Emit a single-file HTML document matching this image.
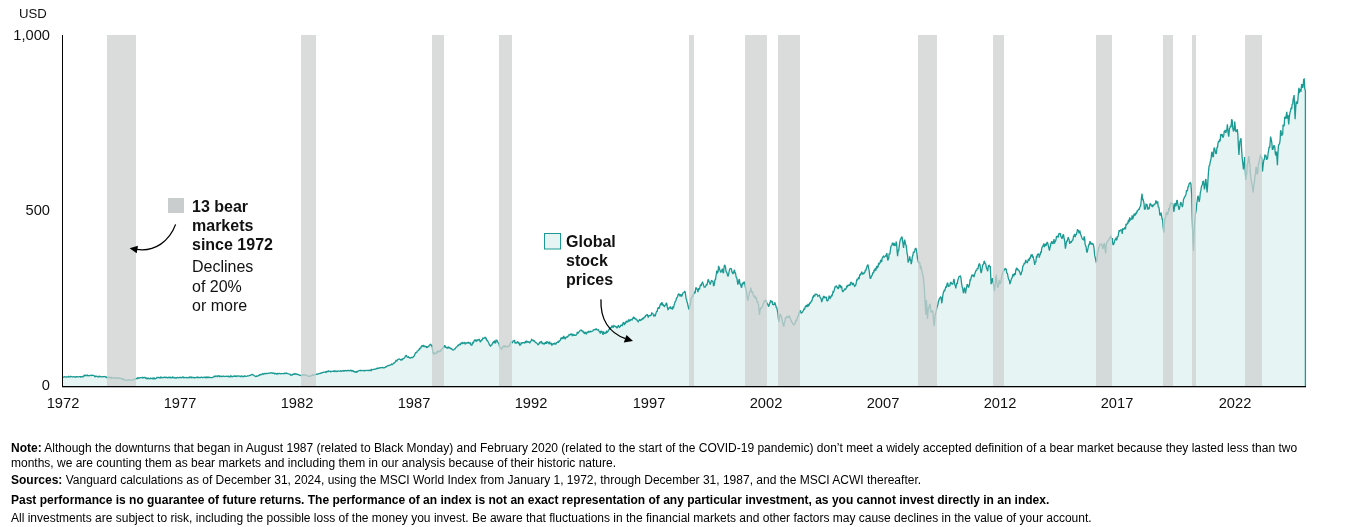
<!DOCTYPE html>
<html><head><meta charset="utf-8"><title>Global stock prices and bear markets</title>
<style>
html,body{margin:0;padding:0;background:#fff;}
body{width:1356px;height:527px;position:relative;overflow:hidden;font-family:"Liberation Sans",sans-serif;color:#111;}
svg{position:absolute;left:0;top:0;}
.t{position:absolute;white-space:nowrap;}
.t,.yr,.yl,.lg,.fn{will-change:transform;}
.ax{font-size:14.67px;line-height:16px;color:#111;}
.yr{position:absolute;top:394.7px;width:60px;text-align:center;font-size:14.67px;line-height:16px;color:#111;}
.yl{position:absolute;width:50px;left:-0.5px;text-align:right;font-size:14.67px;line-height:16px;color:#111;}
.lg{position:absolute;font-size:16px;line-height:19px;color:#111;white-space:nowrap;}
.b{font-weight:bold;}
.fn{position:absolute;left:10.6px;font-size:12px;line-height:14px;color:#000;white-space:nowrap;}
</style></head><body>
<svg width="1356" height="527" viewBox="0 0 1356 527">
<path d="M62.0,377.5 L62.5,377.3 L63.0,377.4 L63.5,377.1 L64.0,377.0 L64.5,376.7 L65.0,376.8 L65.5,376.8 L65.9,377.0 L66.3,376.9 L66.8,377.0 L67.2,376.9 L67.7,376.9 L68.2,376.8 L68.6,376.4 L69.0,377.0 L69.5,376.9 L70.0,376.9 L70.4,376.4 L70.8,376.4 L71.3,376.6 L71.8,376.7 L72.2,376.9 L72.7,376.8 L73.1,376.9 L73.5,376.7 L74.0,376.9 L74.5,376.9 L74.9,376.7 L75.3,377.2 L75.8,376.9 L76.2,377.1 L76.7,376.7 L77.2,376.6 L77.6,376.7 L78.0,376.8 L78.5,376.9 L79.0,376.9 L79.4,376.7 L79.8,376.6 L80.3,376.7 L80.8,377.1 L81.2,376.6 L81.7,376.9 L82.1,376.9 L82.5,376.5 L83.0,376.8 L83.5,376.2 L84.0,375.5 L84.5,375.8 L84.9,375.1 L85.4,375.4 L85.8,375.5 L86.3,375.3 L86.7,375.6 L87.2,375.5 L87.6,375.2 L88.1,375.7 L88.5,375.6 L89.0,375.7 L89.5,375.8 L89.9,375.6 L90.4,375.5 L90.8,375.2 L91.3,375.6 L91.7,375.4 L92.2,375.4 L92.6,375.2 L93.1,375.3 L93.5,375.4 L94.0,375.5 L94.5,376.4 L95.0,376.8 L95.5,376.2 L96.0,376.2 L96.5,376.4 L97.0,376.2 L97.5,376.8 L98.0,376.8 L98.5,376.9 L98.9,376.3 L99.4,376.2 L99.9,376.8 L100.3,376.5 L100.8,376.4 L101.3,376.9 L101.7,376.9 L102.2,376.7 L102.7,376.7 L103.1,376.7 L103.6,376.9 L104.1,376.7 L104.5,376.6 L105.0,376.5 L105.5,376.9 L106.0,376.7 L106.5,377.5 L107.0,377.5 L107.5,377.7 L107.9,377.7 L108.4,377.1 L108.8,377.5 L109.3,377.8 L109.8,377.2 L110.2,377.6 L110.7,377.9 L111.2,377.4 L111.6,378.1 L112.1,377.9 L112.5,377.7 L113.0,377.8 L113.5,377.9 L113.9,378.0 L114.4,377.9 L114.9,378.2 L115.3,377.8 L115.8,377.9 L116.3,378.2 L116.7,378.0 L117.2,377.8 L117.7,378.3 L118.1,378.4 L118.6,378.0 L119.1,377.8 L119.5,378.1 L120.0,378.2 L120.5,378.3 L121.0,378.5 L121.5,379.0 L122.0,378.6 L122.5,379.3 L123.0,378.9 L123.5,379.2 L124.0,379.5 L124.5,379.8 L125.0,380.0 L125.5,380.1 L126.0,380.1 L126.5,380.2 L127.0,380.3 L127.5,380.2 L128.0,380.2 L128.5,379.9 L129.0,379.8 L129.5,380.0 L130.0,380.1 L130.5,380.1 L131.0,380.2 L131.5,380.2 L132.0,380.0 L132.5,380.2 L133.0,379.7 L133.5,379.4 L134.0,379.3 L134.5,379.1 L135.0,379.0 L135.5,379.0 L136.0,378.6 L136.5,378.6 L137.0,378.3 L137.5,378.6 L138.0,377.6 L138.5,377.8 L139.0,378.0 L139.5,378.0 L140.0,377.8 L140.5,377.6 L141.0,377.6 L141.5,377.7 L142.0,377.6 L142.5,377.4 L143.0,378.1 L143.5,377.6 L144.0,377.4 L144.5,377.5 L145.0,377.5 L145.5,378.0 L146.0,378.5 L146.5,378.5 L146.9,377.9 L147.4,378.4 L147.8,378.7 L148.3,378.2 L148.7,378.5 L149.2,378.7 L149.6,378.7 L150.1,378.8 L150.5,378.1 L151.0,378.4 L151.5,378.4 L151.9,378.6 L152.4,378.7 L152.8,377.9 L153.3,378.7 L153.7,378.2 L154.2,378.7 L154.6,378.2 L155.1,378.5 L155.5,378.8 L156.0,378.5 L156.5,378.0 L157.0,377.5 L157.5,377.5 L157.9,377.7 L158.4,377.5 L158.8,377.5 L159.3,377.8 L159.8,377.7 L160.2,377.4 L160.7,378.1 L161.1,377.2 L161.6,377.7 L162.1,377.4 L162.5,377.5 L163.0,377.7 L163.4,377.5 L163.9,377.6 L164.4,377.2 L164.8,377.2 L165.3,377.6 L165.7,377.3 L166.2,377.3 L166.6,377.2 L167.1,377.8 L167.6,377.7 L168.0,377.8 L168.5,377.3 L168.9,377.5 L169.4,377.2 L169.9,377.7 L170.3,377.8 L170.8,377.3 L171.2,377.8 L171.7,377.7 L172.2,377.5 L172.6,377.1 L173.1,377.8 L173.5,377.5 L174.0,377.5 L174.5,377.6 L175.0,378.0 L175.5,378.0 L176.0,377.8 L176.5,378.0 L177.0,377.5 L177.5,377.3 L177.9,377.7 L178.4,377.8 L178.8,377.8 L179.3,377.5 L179.7,377.3 L180.2,377.7 L180.6,377.5 L181.1,377.5 L181.5,377.8 L182.0,377.4 L182.5,377.0 L182.9,377.4 L183.4,377.1 L183.8,377.7 L184.3,377.6 L184.7,377.4 L185.2,377.5 L185.6,377.7 L186.1,377.5 L186.5,377.8 L187.0,377.5 L187.5,377.7 L187.9,377.8 L188.4,377.9 L188.8,377.4 L189.3,377.7 L189.7,377.1 L190.2,377.3 L190.6,377.1 L191.1,377.7 L191.5,377.2 L192.0,377.5 L192.5,377.5 L192.9,377.5 L193.4,377.4 L193.8,377.6 L194.3,377.9 L194.7,377.5 L195.2,377.6 L195.6,377.7 L196.1,377.5 L196.5,377.2 L197.0,377.4 L197.5,377.7 L197.9,377.1 L198.4,377.4 L198.8,377.7 L199.3,377.7 L199.7,377.5 L200.2,377.7 L200.6,377.5 L201.1,377.2 L201.5,377.2 L202.0,377.4 L202.5,377.7 L202.9,377.4 L203.4,377.3 L203.8,377.3 L204.3,377.2 L204.7,377.5 L205.2,377.2 L205.6,377.6 L206.1,377.0 L206.5,377.6 L207.0,377.4 L207.5,377.1 L207.9,377.7 L208.4,377.4 L208.8,377.0 L209.3,377.3 L209.7,377.6 L210.2,377.4 L210.6,377.7 L211.1,377.7 L211.5,377.6 L212.0,377.5 L212.5,377.3 L213.0,377.3 L213.5,376.9 L214.0,376.5 L214.5,376.5 L215.0,375.9 L215.5,376.5 L216.0,376.5 L216.5,376.1 L217.0,376.0 L217.5,376.5 L218.0,376.0 L218.5,375.7 L219.0,376.2 L219.5,376.6 L220.0,375.9 L220.5,376.3 L221.0,376.6 L221.5,376.2 L222.0,376.3 L222.5,376.4 L222.9,376.5 L223.4,376.1 L223.9,376.3 L224.4,376.4 L224.8,376.5 L225.3,376.3 L225.8,376.3 L226.2,376.1 L226.7,376.3 L227.2,376.6 L227.6,376.4 L228.1,376.2 L228.6,376.2 L229.1,377.0 L229.5,376.6 L230.0,376.4 L230.5,376.5 L230.9,375.8 L231.4,376.5 L231.9,376.4 L232.3,376.7 L232.8,376.4 L233.3,376.3 L233.8,376.4 L234.2,375.8 L234.7,376.4 L235.2,376.3 L235.6,376.0 L236.1,376.4 L236.6,376.5 L237.0,375.8 L237.5,376.1 L238.0,376.0 L238.4,376.2 L238.9,376.2 L239.4,376.1 L239.8,376.0 L240.3,376.7 L240.7,376.4 L241.2,376.0 L241.7,375.9 L242.1,376.6 L242.6,376.5 L243.1,376.7 L243.5,376.5 L244.0,376.1 L244.4,376.4 L244.9,375.9 L245.4,376.2 L245.8,376.4 L246.3,376.4 L246.8,376.4 L247.3,375.9 L247.8,375.9 L248.2,375.9 L248.7,375.8 L249.2,375.7 L249.7,375.4 L250.2,375.2 L250.7,375.3 L251.1,374.9 L251.6,374.6 L252.1,374.5 L252.6,374.5 L253.1,374.8 L253.6,375.2 L254.1,375.6 L254.7,375.9 L255.2,376.3 L255.7,376.6 L256.2,376.4 L256.6,376.0 L257.1,376.2 L257.6,376.1 L258.0,375.8 L258.5,375.5 L259.0,375.5 L259.4,375.0 L259.9,374.6 L260.4,374.9 L260.8,374.5 L261.3,374.5 L261.8,374.6 L262.2,374.1 L262.7,373.6 L263.2,373.9 L263.6,374.3 L264.1,373.8 L264.5,373.5 L265.0,373.5 L265.5,373.7 L265.9,373.6 L266.4,373.4 L266.9,373.4 L267.3,373.6 L267.8,373.4 L268.2,373.2 L268.7,373.3 L269.1,373.4 L269.6,373.2 L270.0,373.2 L270.5,372.7 L270.9,372.8 L271.4,372.8 L271.9,373.0 L272.3,372.9 L272.8,373.3 L273.2,373.2 L273.7,373.4 L274.1,373.2 L274.6,373.9 L275.0,373.7 L275.5,373.4 L275.9,373.5 L276.4,373.6 L276.9,374.2 L277.3,373.5 L277.8,373.8 L278.2,373.8 L278.7,373.6 L279.1,373.3 L279.6,373.6 L280.0,373.6 L280.5,373.8 L280.9,373.7 L281.4,373.6 L281.8,373.7 L282.3,373.7 L282.7,373.6 L283.2,373.6 L283.6,373.5 L284.1,373.7 L284.5,373.3 L285.0,373.4 L285.4,373.5 L285.9,373.2 L286.3,373.4 L286.8,373.1 L287.2,373.4 L287.7,373.5 L288.2,373.8 L288.6,374.0 L289.1,374.1 L289.5,374.2 L290.0,374.2 L290.5,375.1 L290.9,375.0 L291.4,375.1 L291.9,375.2 L292.3,374.6 L292.8,374.5 L293.2,374.0 L293.7,374.4 L294.1,374.3 L294.6,373.9 L295.1,373.6 L295.6,374.1 L296.0,374.4 L296.5,374.0 L297.0,374.1 L297.5,374.4 L297.9,374.6 L298.4,374.5 L298.9,374.9 L299.4,375.1 L299.8,375.3 L300.3,375.4 L300.8,375.4 L301.3,375.7 L301.8,375.5 L302.3,374.9 L302.8,375.1 L303.2,374.9 L303.7,374.8 L304.2,375.0 L304.7,375.0 L305.2,374.9 L305.7,375.2 L306.2,375.0 L306.7,375.3 L307.2,375.8 L307.7,375.9 L308.2,376.1 L308.7,376.4 L309.2,376.3 L309.6,376.0 L310.1,376.2 L310.6,376.0 L311.1,375.8 L311.5,375.5 L312.0,375.5 L312.5,374.8 L312.9,375.1 L313.4,375.2 L313.9,374.7 L314.4,375.0 L314.8,374.9 L315.3,374.7 L315.8,374.3 L316.3,374.4 L316.7,374.2 L317.2,374.3 L317.7,374.2 L318.2,373.9 L318.6,373.6 L319.1,373.6 L319.6,373.5 L320.1,373.6 L320.5,373.3 L321.0,373.0 L321.5,373.0 L321.9,372.6 L322.4,372.7 L322.9,372.5 L323.3,372.3 L323.8,372.4 L324.2,372.2 L324.6,372.2 L325.1,372.1 L325.6,371.8 L326.0,372.3 L326.4,371.6 L326.9,371.8 L327.4,371.4 L327.8,371.3 L328.3,371.5 L328.7,370.8 L329.2,371.1 L329.6,371.3 L330.1,371.4 L330.5,371.8 L331.0,371.3 L331.4,371.5 L331.9,371.4 L332.3,371.4 L332.8,371.3 L333.3,371.2 L333.7,371.3 L334.2,370.9 L334.6,371.4 L335.1,370.9 L335.5,371.2 L336.0,371.6 L336.4,371.1 L336.9,371.1 L337.3,371.4 L337.8,371.1 L338.3,371.1 L338.7,370.9 L339.2,371.1 L339.7,371.1 L340.1,371.1 L340.6,370.8 L341.1,371.3 L341.6,371.3 L342.0,370.9 L342.5,370.9 L343.0,370.7 L343.4,371.1 L343.9,370.6 L344.4,370.9 L344.8,370.6 L345.3,370.7 L345.8,370.5 L346.2,370.8 L346.7,370.9 L347.2,370.6 L347.7,370.4 L348.1,370.7 L348.6,370.5 L349.1,370.5 L349.6,370.7 L350.1,370.6 L350.5,370.2 L351.0,370.3 L351.5,371.0 L351.9,370.6 L352.4,371.0 L352.8,370.8 L353.3,371.2 L353.7,371.0 L354.2,371.9 L354.6,372.0 L355.1,371.6 L355.5,371.7 L356.0,372.2 L356.5,371.6 L357.0,372.0 L357.6,371.3 L358.1,371.2 L358.6,370.9 L359.1,370.7 L359.6,370.7 L360.0,370.4 L360.5,370.7 L361.0,370.3 L361.4,370.6 L361.9,370.7 L362.3,370.7 L362.8,370.6 L363.3,370.4 L363.7,370.6 L364.2,370.5 L364.7,370.9 L365.1,370.7 L365.6,370.5 L366.0,370.4 L366.5,370.4 L367.0,370.3 L367.4,370.4 L367.9,370.5 L368.4,370.5 L368.8,370.4 L369.3,370.4 L369.8,370.6 L370.2,369.9 L370.7,370.0 L371.2,370.5 L371.6,369.4 L372.1,369.6 L372.6,369.7 L373.1,369.6 L373.5,369.5 L374.0,369.3 L374.5,369.4 L374.9,369.2 L375.4,369.1 L375.9,369.1 L376.3,368.4 L376.8,368.5 L377.3,368.6 L377.7,368.2 L378.2,368.1 L378.6,368.3 L379.1,367.9 L379.6,368.0 L380.0,367.9 L380.5,367.6 L381.0,367.7 L381.4,367.8 L381.9,367.7 L382.4,367.4 L382.8,367.7 L383.3,367.8 L383.7,367.7 L384.2,367.8 L384.7,367.5 L385.1,367.4 L385.6,366.8 L386.1,366.9 L386.6,366.9 L387.1,366.1 L387.5,366.0 L388.0,365.7 L388.5,365.5 L388.9,365.7 L389.4,365.3 L389.8,365.3 L390.3,364.8 L390.7,364.8 L391.2,364.7 L391.6,364.1 L392.1,364.7 L392.5,364.4 L393.0,364.1 L393.5,363.2 L394.0,363.3 L394.5,362.6 L395.0,362.3 L395.4,361.9 L395.9,360.5 L396.4,360.7 L396.9,361.0 L397.4,359.8 L397.9,359.5 L398.4,359.2 L399.0,358.9 L399.5,359.0 L400.0,359.5 L400.5,359.6 L400.9,360.1 L401.4,359.4 L401.9,359.2 L402.4,360.1 L402.9,358.6 L403.3,358.4 L403.8,358.6 L404.3,358.1 L404.9,357.4 L405.4,355.9 L405.9,355.7 L406.4,355.6 L407.0,356.9 L407.5,357.2 L408.0,357.4 L408.4,356.8 L408.9,357.4 L409.3,357.4 L409.8,358.0 L410.2,357.8 L410.7,358.0 L411.2,357.7 L411.7,357.3 L412.2,357.7 L412.8,357.7 L413.3,356.5 L413.8,356.4 L414.3,355.9 L414.8,354.1 L415.2,353.6 L415.7,352.6 L416.2,352.6 L416.7,352.6 L417.2,351.1 L417.8,350.9 L418.3,350.6 L418.8,350.1 L419.3,348.7 L419.8,349.0 L420.2,348.1 L420.7,348.1 L421.2,346.7 L421.7,345.6 L422.1,346.3 L422.6,345.7 L423.1,346.0 L423.6,345.6 L424.1,346.6 L424.6,346.0 L425.1,346.3 L425.7,346.3 L426.2,347.3 L426.8,346.5 L427.3,347.8 L427.8,346.8 L428.2,346.7 L428.7,346.6 L429.2,345.4 L429.6,345.2 L430.1,344.4 L430.6,344.2 L431.1,344.9 L431.7,345.9 L432.2,345.1 L432.9,352.8 L433.4,352.6 L434.0,354.5 L434.6,353.0 L435.1,353.6 L435.6,353.3 L436.1,353.1 L436.6,353.2 L437.1,351.6 L437.6,352.0 L438.1,350.6 L438.6,351.8 L439.1,351.7 L439.6,351.3 L440.1,350.7 L440.6,351.7 L441.0,349.8 L441.5,349.4 L441.9,349.3 L442.4,348.5 L442.8,348.8 L443.3,347.3 L443.8,346.5 L444.3,347.0 L444.8,345.1 L445.3,347.5 L445.8,347.0 L446.4,347.4 L447.0,348.2 L447.6,347.9 L448.3,346.6 L448.8,348.3 L449.3,347.5 L449.8,347.8 L450.3,348.1 L450.8,348.8 L451.3,348.6 L451.9,349.0 L452.4,349.9 L453.0,349.9 L453.5,350.1 L454.0,349.6 L454.5,349.0 L454.9,349.1 L455.4,348.3 L455.9,347.4 L456.4,347.0 L456.9,346.9 L457.4,346.0 L457.9,344.9 L458.4,346.0 L458.9,344.7 L459.4,344.7 L459.8,343.6 L460.3,344.6 L460.8,343.9 L461.3,342.4 L461.8,344.1 L462.2,343.1 L462.7,342.6 L463.2,343.3 L463.7,343.0 L464.2,342.9 L464.8,342.2 L465.3,343.9 L465.8,343.4 L466.3,343.2 L466.8,342.8 L467.3,343.0 L467.8,342.6 L468.3,342.3 L468.8,343.1 L469.2,342.8 L469.7,343.3 L470.1,342.4 L470.6,343.8 L471.0,344.9 L471.5,344.8 L472.0,344.9 L472.5,343.0 L473.0,342.4 L473.5,342.7 L474.0,340.7 L474.5,340.6 L475.0,339.4 L475.5,340.8 L476.1,340.1 L476.6,341.2 L477.1,340.7 L477.6,339.9 L478.1,340.2 L478.5,339.7 L479.0,339.4 L479.5,339.9 L479.9,341.0 L480.4,342.2 L480.9,341.1 L481.4,340.1 L481.9,339.6 L482.4,339.7 L482.9,338.1 L483.4,338.2 L483.9,338.3 L484.4,338.1 L484.8,337.3 L485.3,337.3 L485.8,338.5 L486.2,338.0 L486.7,340.3 L487.1,340.7 L487.6,340.5 L488.1,341.8 L488.6,342.6 L489.0,343.5 L489.5,345.0 L490.0,345.3 L490.5,346.0 L491.0,345.1 L491.5,345.0 L491.9,344.9 L492.4,343.3 L492.9,342.8 L493.4,341.9 L493.9,342.5 L494.3,341.8 L494.8,340.6 L495.3,342.9 L495.8,342.6 L496.2,339.7 L496.7,340.8 L497.2,340.7 L497.7,341.8 L498.3,343.0 L498.8,343.2 L499.7,347.0 L500.2,348.0 L500.6,348.1 L501.1,348.3 L501.6,349.5 L502.2,348.0 L502.8,346.3 L503.3,347.0 L503.8,345.8 L504.2,346.0 L504.7,346.6 L505.2,345.6 L505.7,346.7 L506.1,346.7 L506.6,347.0 L507.1,347.1 L507.6,346.3 L508.1,346.1 L508.6,346.2 L509.1,346.3 L509.6,345.2 L510.1,343.7 L510.5,343.0 L511.0,341.9 L511.5,342.2 L512.0,342.4 L512.5,342.6 L513.1,340.9 L513.6,341.0 L514.1,341.1 L514.6,340.1 L515.0,343.3 L515.5,342.2 L516.0,343.2 L516.5,342.9 L517.0,342.9 L517.4,341.4 L517.9,341.9 L518.4,343.0 L518.8,343.5 L519.2,343.2 L519.7,345.1 L520.2,344.8 L520.7,344.8 L521.2,342.4 L521.7,343.6 L522.2,342.6 L522.7,342.6 L523.2,342.7 L523.6,342.6 L524.1,343.0 L524.6,341.9 L525.0,342.5 L525.5,341.6 L526.0,342.2 L526.5,341.1 L527.0,341.4 L527.4,342.5 L527.9,341.3 L528.4,342.1 L528.8,342.2 L529.3,342.0 L529.8,343.2 L530.2,341.8 L530.7,341.4 L531.1,341.0 L531.6,339.4 L532.1,339.9 L532.5,340.3 L533.0,340.2 L533.4,341.4 L533.9,340.5 L534.3,340.7 L534.8,341.3 L535.3,342.4 L535.8,342.5 L536.3,342.8 L536.9,343.2 L537.4,344.0 L537.9,344.7 L538.4,344.6 L538.9,343.9 L539.5,342.4 L540.0,342.9 L540.5,342.2 L541.0,341.6 L541.5,341.5 L542.0,343.2 L542.4,343.1 L542.9,343.8 L543.4,343.4 L543.9,343.9 L544.4,344.0 L544.9,342.5 L545.3,343.0 L545.8,342.0 L546.3,343.8 L546.8,341.8 L547.3,341.9 L547.8,342.9 L548.2,341.9 L548.7,343.1 L549.1,344.2 L549.6,341.5 L550.0,343.0 L550.5,343.8 L550.9,343.7 L551.4,343.5 L551.8,345.5 L552.3,344.4 L552.8,344.3 L553.2,343.1 L553.7,344.5 L554.1,342.8 L554.6,344.4 L555.0,343.2 L555.5,343.5 L555.9,344.1 L556.4,343.2 L556.8,342.2 L557.3,342.9 L557.8,341.4 L558.2,342.7 L558.7,341.9 L559.2,340.5 L559.6,341.0 L560.1,340.3 L560.5,339.9 L561.0,337.6 L561.5,338.4 L561.9,338.7 L562.4,337.6 L562.9,338.1 L563.3,338.2 L563.8,336.0 L564.2,337.7 L564.7,337.9 L565.2,339.3 L565.6,337.0 L566.1,337.6 L566.6,337.0 L567.1,336.8 L567.6,337.0 L568.0,335.7 L568.5,336.4 L569.0,334.7 L569.5,335.0 L570.0,334.4 L570.5,334.1 L570.9,334.7 L571.4,334.2 L571.8,333.6 L572.3,335.5 L572.8,335.1 L573.2,334.5 L573.7,335.1 L574.1,335.8 L574.6,334.5 L575.0,335.1 L575.5,335.3 L576.0,335.2 L576.4,334.8 L576.9,333.7 L577.3,332.0 L577.8,333.9 L578.2,332.8 L578.7,332.1 L579.1,331.5 L579.6,331.4 L580.0,330.5 L580.5,330.3 L581.0,329.9 L581.5,330.4 L581.9,330.9 L582.4,331.2 L582.9,331.1 L583.4,332.7 L583.8,331.7 L584.3,333.4 L584.8,333.3 L585.3,332.5 L585.8,333.3 L586.3,333.9 L586.8,332.9 L587.2,332.1 L587.7,332.6 L588.2,332.5 L588.7,331.0 L589.2,331.7 L589.7,332.0 L590.2,331.9 L590.6,331.2 L591.1,331.4 L591.5,331.6 L592.0,331.5 L592.4,331.3 L592.9,330.9 L593.3,330.0 L593.8,330.0 L594.2,329.6 L594.7,329.6 L595.2,329.4 L595.7,329.6 L596.2,328.6 L596.8,329.6 L597.3,329.9 L597.8,330.0 L598.3,329.7 L598.8,330.8 L599.3,331.6 L599.8,331.5 L600.3,333.5 L600.8,332.4 L601.3,330.7 L601.7,332.5 L602.2,331.5 L602.6,333.5 L603.1,334.8 L603.6,331.3 L604.0,333.3 L604.5,333.3 L605.0,333.4 L605.5,332.6 L606.0,332.9 L606.6,330.7 L607.1,332.7 L607.6,331.8 L608.1,331.3 L608.6,330.3 L609.1,329.2 L609.6,329.3 L610.1,328.1 L610.6,327.5 L611.1,327.8 L611.5,327.0 L612.0,325.5 L612.5,326.9 L613.0,326.8 L613.4,327.0 L613.9,325.5 L614.4,325.9 L614.9,326.0 L615.4,326.7 L616.0,326.5 L616.5,327.5 L617.0,328.2 L617.5,326.9 L618.0,326.1 L618.5,325.1 L618.9,327.0 L619.4,327.4 L619.9,326.8 L620.4,326.5 L620.8,325.3 L621.3,325.0 L621.8,325.4 L622.3,325.6 L622.8,323.8 L623.3,322.6 L623.9,322.8 L624.4,325.0 L624.9,322.6 L625.4,323.9 L625.9,321.6 L626.3,321.3 L626.8,321.8 L627.3,320.8 L627.8,322.2 L628.2,320.9 L628.7,319.9 L629.2,320.5 L629.7,321.4 L630.2,319.7 L630.7,320.2 L631.2,319.8 L631.7,319.4 L632.1,319.8 L632.6,318.8 L633.1,317.7 L633.6,317.3 L634.1,318.9 L634.6,317.9 L635.1,318.4 L635.6,319.1 L636.1,319.2 L636.6,319.2 L637.1,320.5 L637.7,321.0 L638.2,321.7 L638.7,320.8 L639.1,320.5 L639.6,319.1 L640.1,320.3 L640.6,320.5 L641.0,320.2 L641.5,319.5 L642.0,319.0 L642.4,318.6 L642.9,319.1 L643.3,317.9 L643.8,318.1 L644.2,317.6 L644.7,316.9 L645.1,317.4 L645.6,315.5 L646.0,315.3 L646.5,315.2 L647.0,314.6 L647.5,314.8 L647.9,316.8 L648.4,317.1 L648.9,315.8 L649.4,315.5 L649.8,315.6 L650.3,315.8 L650.8,315.2 L651.2,315.2 L651.7,312.9 L652.1,313.1 L652.6,313.3 L653.1,314.3 L653.6,315.7 L654.1,315.2 L654.6,315.1 L655.1,316.4 L655.6,314.6 L656.1,312.9 L656.6,311.2 L657.1,311.8 L657.6,309.0 L658.1,307.7 L658.6,307.5 L659.0,308.7 L659.5,307.0 L660.0,305.5 L660.5,303.9 L660.9,304.1 L661.4,304.5 L661.9,302.2 L662.4,303.6 L662.9,305.1 L663.4,304.9 L663.9,306.1 L664.4,306.5 L664.9,305.4 L665.3,305.0 L665.8,304.9 L666.2,302.8 L666.8,303.8 L667.4,307.3 L668.0,309.6 L668.5,309.2 L669.0,307.9 L669.5,307.5 L670.0,307.8 L670.5,306.5 L671.0,308.9 L671.5,308.3 L671.9,308.7 L672.4,309.0 L672.9,306.4 L673.4,308.3 L674.0,305.4 L674.5,304.0 L675.0,301.8 L675.5,301.6 L676.0,300.2 L676.5,297.9 L677.0,297.7 L677.5,296.7 L678.0,295.0 L678.5,293.6 L679.0,294.4 L679.5,293.8 L680.0,296.5 L680.6,295.0 L681.1,294.3 L681.6,296.6 L682.1,295.5 L682.6,294.0 L683.2,292.8 L683.7,292.6 L684.2,292.3 L684.7,291.1 L685.2,292.1 L685.7,295.3 L686.1,298.9 L686.6,299.7 L687.1,302.3 L687.6,303.5 L688.0,305.8 L688.5,307.5 L689.0,309.6 L689.5,307.3 L690.0,305.8 L690.5,302.9 L691.0,298.5 L691.5,298.5 L692.0,297.4 L692.5,295.6 L693.0,296.0 L693.6,293.8 L694.1,293.5 L694.6,292.3 L695.2,292.4 L695.8,288.0 L696.3,288.0 L696.9,289.0 L697.5,289.7 L698.0,292.2 L698.5,288.8 L698.9,288.3 L699.4,289.6 L699.8,287.6 L700.3,285.3 L700.8,284.7 L701.2,285.9 L701.7,283.5 L702.1,282.9 L702.6,282.3 L703.1,283.6 L703.7,285.6 L704.2,287.1 L704.8,287.1 L705.3,286.9 L705.8,285.8 L706.3,284.6 L706.8,285.0 L707.4,283.4 L707.9,280.2 L708.4,279.3 L708.9,281.1 L709.3,282.3 L709.8,283.3 L710.2,284.6 L710.8,282.8 L711.4,280.6 L712.0,280.8 L712.5,281.4 L713.0,281.4 L713.5,285.6 L714.0,285.4 L714.5,283.7 L714.9,279.5 L715.4,280.1 L715.8,277.3 L716.3,274.0 L716.8,270.6 L717.2,273.7 L717.6,271.3 L718.1,271.6 L718.5,266.5 L719.0,266.8 L719.6,269.3 L720.2,271.1 L720.8,272.5 L721.3,271.5 L721.8,270.2 L722.3,268.7 L722.9,272.2 L723.5,273.2 L724.0,267.3 L724.6,264.9 L725.1,265.7 L725.6,267.8 L726.1,271.7 L726.6,272.2 L727.1,273.3 L727.6,275.6 L728.1,276.3 L728.6,274.3 L729.1,271.7 L729.6,269.4 L730.2,268.5 L730.8,268.6 L731.4,269.0 L731.9,271.8 L732.5,273.2 L733.0,274.0 L733.5,272.7 L734.0,270.9 L734.5,269.9 L735.0,273.3 L735.4,272.4 L735.9,275.4 L736.3,277.5 L736.8,277.8 L737.3,280.9 L737.8,284.6 L738.4,282.8 L739.0,279.3 L739.5,279.8 L739.9,283.7 L740.4,284.6 L740.8,284.4 L741.3,287.7 L741.8,286.9 L742.3,283.7 L742.8,283.1 L743.3,284.2 L743.9,281.8 L744.4,282.3 L745.0,284.6 L745.5,287.5 L746.0,289.4 L746.6,292.2 L747.2,296.7 L747.8,300.6 L748.3,297.3 L748.9,295.7 L749.4,292.2 L749.9,291.6 L750.3,291.3 L750.8,287.7 L751.2,289.9 L751.7,292.1 L752.1,292.1 L752.6,291.3 L753.0,294.2 L753.5,295.2 L754.0,296.2 L754.5,297.3 L755.0,295.7 L755.5,298.8 L756.0,297.6 L756.5,298.3 L757.0,302.1 L757.5,301.2 L758.0,303.5 L758.5,304.4 L759.0,309.4 L759.5,315.0 L760.0,310.6 L760.6,308.2 L761.1,308.3 L761.7,307.2 L762.2,306.8 L762.8,305.3 L763.3,303.6 L763.8,302.6 L764.2,301.1 L764.7,301.5 L765.2,301.0 L765.6,300.3 L766.1,300.6 L766.6,302.3 L767.1,303.3 L767.7,304.0 L768.2,305.6 L768.7,306.6 L769.2,304.9 L769.7,303.6 L770.1,302.6 L770.6,300.3 L771.1,302.0 L771.6,301.3 L772.2,301.4 L772.7,304.9 L773.2,304.4 L773.7,304.3 L774.2,305.0 L774.7,302.3 L775.2,303.6 L775.7,305.1 L776.2,307.3 L776.8,307.8 L777.3,310.4 L777.8,312.7 L778.3,317.8 L778.8,321.8 L779.4,318.5 L780.0,313.5 L780.5,316.2 L781.0,315.4 L781.4,316.3 L781.9,318.8 L782.4,321.2 L782.8,323.5 L783.3,324.9 L783.8,326.7 L784.3,322.8 L784.9,321.5 L785.4,318.0 L786.0,318.3 L786.5,317.7 L787.0,316.5 L787.6,316.5 L788.1,316.9 L788.5,317.5 L789.0,316.5 L789.4,315.6 L789.9,317.3 L790.4,318.6 L790.8,319.8 L791.3,320.5 L791.7,322.2 L792.2,322.6 L792.7,323.0 L793.2,324.3 L793.7,325.2 L794.2,324.0 L794.6,323.7 L795.1,323.5 L795.5,321.1 L796.0,320.3 L796.5,320.8 L797.0,319.3 L797.4,317.5 L797.9,316.2 L798.4,316.1 L798.8,313.3 L799.3,312.2 L799.8,311.2 L800.3,310.5 L800.7,312.1 L801.2,313.1 L801.6,312.6 L802.1,312.4 L802.6,312.0 L803.0,310.8 L803.5,310.4 L804.0,308.3 L804.5,309.7 L805.0,307.7 L805.4,306.3 L805.9,306.6 L806.4,305.6 L806.8,305.3 L807.2,306.5 L807.7,306.4 L808.1,303.9 L808.6,305.6 L809.0,305.3 L809.5,303.7 L809.9,302.5 L810.4,303.6 L810.9,301.9 L811.4,301.0 L811.8,301.0 L812.3,299.3 L812.8,296.7 L813.2,297.9 L813.7,295.2 L814.2,295.7 L814.7,296.4 L815.2,294.2 L815.8,294.6 L816.3,294.3 L816.8,294.4 L817.3,294.8 L817.8,296.2 L818.4,295.8 L819.0,295.7 L819.5,295.2 L820.0,296.9 L820.5,298.0 L821.1,298.6 L821.7,302.2 L822.2,300.3 L822.8,298.8 L823.3,296.9 L823.8,296.4 L824.3,297.5 L824.8,296.9 L825.3,297.5 L825.8,297.7 L826.3,297.4 L826.8,300.5 L827.3,300.5 L827.8,301.2 L828.2,299.6 L828.7,297.9 L829.2,295.7 L829.6,297.9 L830.1,298.3 L830.6,296.9 L831.0,297.0 L831.5,295.5 L832.0,295.8 L832.5,294.3 L833.0,291.6 L833.6,292.0 L834.1,290.5 L834.6,288.6 L835.1,286.5 L835.7,287.2 L836.2,285.6 L836.7,286.6 L837.3,287.2 L837.8,288.5 L838.4,288.6 L838.9,286.6 L839.3,284.7 L839.8,287.3 L840.2,285.1 L840.7,286.3 L841.1,288.2 L841.6,286.1 L842.0,289.4 L842.5,291.2 L842.9,291.9 L843.4,290.7 L843.9,290.0 L844.4,289.9 L844.8,289.0 L845.3,289.6 L845.8,289.2 L846.3,287.7 L846.8,285.6 L847.2,287.3 L847.7,285.5 L848.2,285.5 L848.7,285.6 L849.2,284.7 L849.8,285.7 L850.3,284.6 L850.8,282.4 L851.3,282.4 L851.9,283.1 L852.4,285.0 L853.0,283.4 L853.5,283.4 L854.0,284.9 L854.6,286.2 L855.1,285.5 L855.6,285.6 L856.1,283.7 L856.6,280.5 L857.1,279.4 L857.6,279.8 L858.1,278.8 L858.6,277.2 L859.1,279.1 L859.7,274.3 L860.2,275.6 L860.7,273.4 L861.2,274.4 L861.7,271.7 L862.2,272.8 L862.8,274.0 L863.3,273.3 L863.8,274.0 L864.3,272.8 L864.8,272.5 L865.3,269.9 L865.8,270.4 L866.3,268.8 L866.9,266.6 L867.4,265.3 L868.0,264.6 L868.5,268.1 L869.0,269.6 L869.5,273.4 L870.0,277.8 L870.5,278.8 L871.0,277.5 L871.5,275.9 L872.1,275.6 L872.6,273.4 L873.1,272.3 L873.5,273.3 L874.0,269.8 L874.5,271.3 L874.9,269.3 L875.4,268.3 L875.8,270.6 L876.3,267.8 L876.8,266.0 L877.2,268.4 L877.7,266.4 L878.1,266.6 L878.6,262.9 L879.0,264.8 L879.5,262.6 L880.0,263.5 L880.5,260.7 L881.0,259.8 L881.6,262.1 L882.1,258.4 L882.6,257.3 L883.1,256.6 L883.6,256.1 L884.1,257.3 L884.6,256.9 L885.1,256.3 L885.7,255.5 L886.2,256.5 L886.8,253.2 L887.3,256.4 L887.8,260.5 L888.2,259.2 L888.7,258.5 L889.1,253.5 L889.6,254.2 L890.0,253.3 L890.5,249.0 L891.0,246.2 L891.5,245.6 L892.0,244.7 L892.5,242.7 L893.0,244.2 L893.6,245.4 L894.1,242.8 L894.7,245.9 L895.2,245.2 L895.7,245.1 L896.2,241.7 L896.7,244.4 L897.1,251.0 L897.6,256.3 L898.2,250.3 L898.7,250.4 L899.3,245.9 L899.8,241.9 L900.3,240.0 L900.9,238.5 L901.4,237.7 L902.0,236.5 L902.5,241.1 L903.0,243.7 L903.5,248.0 L904.0,243.8 L904.5,239.6 L905.0,241.2 L905.5,244.5 L906.1,245.1 L906.6,249.0 L907.1,253.6 L907.6,255.6 L908.1,262.6 L908.6,259.9 L909.2,260.8 L909.7,256.3 L910.2,259.0 L910.7,260.0 L911.2,264.2 L911.8,261.6 L912.3,257.0 L912.9,255.3 L913.4,252.0 L913.8,251.9 L914.2,252.6 L914.7,250.9 L915.1,249.1 L915.6,248.0 L916.1,248.8 L916.5,250.7 L917.0,254.2 L917.5,258.7 L918.0,260.1 L918.5,262.6 L919.0,262.3 L919.4,261.8 L919.9,263.5 L920.3,269.0 L920.8,265.6 L921.2,267.8 L921.7,270.1 L922.2,272.7 L922.8,274.7 L923.3,277.2 L923.8,282.1 L924.3,287.6 L925.0,300.1 L925.8,314.7 L926.4,300.1 L927.0,308.3 L927.5,318.9 L928.0,312.3 L928.5,307.4 L929.0,307.9 L929.5,304.6 L930.0,304.3 L930.6,309.2 L931.2,312.7 L931.7,310.6 L932.2,311.1 L932.7,310.6 L933.2,316.0 L933.7,321.8 L934.2,326.2 L934.7,319.6 L935.2,314.7 L935.7,313.1 L936.2,310.9 L936.8,307.8 L937.3,306.4 L937.9,304.7 L938.4,301.4 L939.0,300.1 L939.5,298.3 L940.1,298.0 L940.6,297.0 L941.2,297.6 L941.7,303.3 L942.2,300.3 L942.7,296.6 L943.2,293.2 L943.7,291.8 L944.2,290.4 L944.7,290.7 L945.2,289.0 L945.8,286.9 L946.4,287.1 L947.0,284.1 L947.5,283.2 L947.9,283.4 L948.4,286.8 L948.8,285.9 L949.3,285.8 L949.9,285.7 L950.4,282.6 L951.0,282.4 L951.6,283.8 L952.1,283.8 L952.7,284.1 L953.3,282.2 L953.9,278.9 L954.4,281.3 L954.8,284.9 L955.3,285.3 L955.8,288.3 L956.3,285.4 L956.8,283.0 L957.3,283.9 L957.8,280.0 L958.3,278.9 L958.8,277.0 L959.3,276.4 L959.9,276.2 L960.4,276.0 L961.0,278.1 L961.5,282.8 L962.1,286.6 L962.8,289.2 L963.4,293.1 L964.0,289.7 L964.6,287.5 L965.5,293.5 L966.1,289.4 L966.6,287.3 L967.2,284.1 L967.7,284.7 L968.1,286.5 L968.6,287.5 L969.1,285.8 L969.6,284.0 L970.1,279.4 L970.6,279.8 L971.2,277.5 L971.7,275.5 L972.3,274.7 L972.9,276.4 L973.4,274.6 L974.0,277.2 L974.6,274.4 L975.1,272.9 L975.7,271.2 L976.2,270.0 L976.7,270.7 L977.3,268.2 L977.8,269.0 L978.3,267.0 L978.9,264.5 L979.4,263.4 L980.0,264.8 L980.6,270.3 L981.2,273.0 L981.7,270.9 L982.1,268.4 L982.6,265.3 L983.1,264.5 L983.6,264.0 L984.1,261.0 L984.6,261.5 L985.1,263.9 L985.5,263.4 L986.0,265.3 L986.6,268.4 L987.1,269.3 L987.7,271.2 L988.2,266.9 L988.6,265.7 L989.1,265.3 L989.7,267.1 L990.3,266.1 L991.1,284.1 L991.6,282.0 L992.0,279.7 L992.5,278.1 L993.0,281.6 L993.5,284.0 L994.0,287.1 L994.5,290.9 L995.1,285.6 L995.6,280.3 L996.2,274.7 L996.7,280.6 L997.1,283.3 L997.6,287.5 L998.2,286.9 L998.7,284.3 L999.3,279.8 L999.9,283.4 L1000.5,283.2 L1001.1,281.2 L1001.6,277.1 L1002.2,273.8 L1002.8,272.8 L1003.3,271.4 L1003.9,270.4 L1004.5,269.0 L1005.0,269.2 L1005.6,268.7 L1006.2,269.4 L1006.8,273.5 L1007.4,273.0 L1008.0,276.6 L1008.5,278.9 L1009.0,280.1 L1009.4,280.3 L1009.9,284.1 L1010.4,282.5 L1011.0,280.6 L1011.5,278.4 L1012.0,278.1 L1012.5,276.0 L1013.1,273.9 L1013.7,276.2 L1014.2,274.7 L1014.7,273.2 L1015.2,274.9 L1015.7,270.5 L1016.2,269.0 L1016.7,267.8 L1017.2,270.2 L1017.8,269.3 L1018.3,269.9 L1018.8,270.4 L1019.4,271.4 L1019.9,272.6 L1020.5,274.7 L1021.0,274.5 L1021.6,272.0 L1022.2,270.9 L1022.7,267.0 L1023.2,265.6 L1023.7,265.0 L1024.3,262.9 L1024.8,264.1 L1025.3,261.9 L1025.8,259.9 L1026.3,262.1 L1026.9,262.5 L1027.4,262.7 L1027.9,260.7 L1028.5,259.0 L1029.0,260.9 L1029.5,258.1 L1030.1,258.4 L1030.6,256.4 L1031.1,254.6 L1031.6,256.7 L1032.1,254.2 L1032.6,257.7 L1033.0,256.2 L1033.5,258.4 L1034.1,260.7 L1034.7,264.8 L1035.3,261.7 L1035.8,262.5 L1036.4,256.7 L1037.0,257.1 L1037.5,254.3 L1038.1,254.2 L1038.7,253.6 L1039.3,257.6 L1039.8,254.7 L1040.2,255.1 L1040.7,251.6 L1041.2,252.8 L1041.7,248.7 L1042.2,246.9 L1042.7,246.5 L1043.2,245.6 L1043.8,243.5 L1044.4,247.1 L1044.9,245.6 L1045.5,243.6 L1046.0,245.9 L1046.6,243.9 L1047.2,242.0 L1047.7,243.1 L1048.3,245.3 L1048.9,248.4 L1049.5,250.7 L1050.0,247.1 L1050.4,246.7 L1050.9,243.1 L1051.4,242.9 L1051.9,241.1 L1052.5,243.4 L1053.0,243.5 L1053.5,242.2 L1054.0,239.0 L1054.5,243.7 L1055.0,241.3 L1055.5,241.2 L1056.0,239.6 L1056.5,236.1 L1057.0,236.7 L1057.6,236.3 L1058.1,237.5 L1058.6,235.0 L1059.1,233.2 L1059.7,234.3 L1060.2,233.0 L1060.8,236.2 L1061.4,237.2 L1062.0,238.8 L1062.5,237.4 L1062.9,235.0 L1063.5,234.4 L1064.0,237.8 L1064.6,240.5 L1065.4,248.7 L1066.0,245.3 L1066.6,240.5 L1067.2,241.6 L1067.7,239.2 L1068.3,237.1 L1068.8,238.9 L1069.2,240.0 L1069.7,243.9 L1070.2,242.0 L1070.8,241.7 L1071.3,242.2 L1071.8,241.4 L1072.4,239.6 L1072.9,240.3 L1073.5,236.2 L1074.0,236.2 L1074.6,233.8 L1075.2,237.1 L1075.7,234.5 L1076.2,235.2 L1076.6,233.3 L1077.1,231.4 L1077.5,229.1 L1078.0,231.1 L1078.5,230.1 L1079.0,233.4 L1079.4,231.4 L1079.9,231.2 L1080.4,233.6 L1080.9,235.0 L1081.4,236.2 L1081.9,237.9 L1082.4,239.1 L1082.9,239.3 L1083.6,239.8 L1084.2,236.4 L1084.7,238.4 L1085.1,244.1 L1085.6,245.9 L1086.1,246.8 L1086.6,251.3 L1087.1,252.6 L1087.6,250.3 L1088.1,247.9 L1088.6,245.0 L1089.2,244.7 L1089.9,241.7 L1090.4,242.0 L1090.8,243.9 L1091.3,244.0 L1091.8,243.1 L1092.3,244.0 L1092.8,243.7 L1093.2,244.2 L1093.7,245.9 L1094.2,250.0 L1094.7,255.4 L1095.2,257.3 L1095.7,259.8 L1096.2,262.0 L1096.8,261.5 L1097.5,253.5 L1098.2,251.0 L1098.8,246.9 L1099.3,247.4 L1099.8,244.6 L1100.3,244.2 L1100.8,244.1 L1101.3,244.0 L1101.8,245.2 L1102.2,244.5 L1102.7,249.0 L1103.2,247.8 L1103.8,244.7 L1104.5,243.1 L1105.1,249.7 L1105.7,253.5 L1106.3,244.7 L1107.0,242.1 L1107.5,241.3 L1108.0,240.9 L1108.5,240.0 L1108.9,239.8 L1109.4,238.6 L1109.9,237.4 L1110.4,238.1 L1110.8,235.7 L1111.3,237.8 L1111.8,239.3 L1112.3,238.0 L1112.8,244.0 L1113.3,245.0 L1113.8,244.0 L1114.4,241.9 L1115.0,239.6 L1115.5,239.3 L1116.0,237.7 L1116.5,240.3 L1117.0,239.4 L1117.4,236.0 L1117.9,237.1 L1118.4,234.5 L1118.9,231.4 L1119.3,230.1 L1119.8,231.4 L1120.3,230.1 L1120.7,229.8 L1121.2,229.8 L1121.7,229.9 L1122.2,233.9 L1122.7,228.3 L1123.1,229.2 L1123.6,229.4 L1124.1,228.8 L1124.6,228.0 L1125.0,228.6 L1125.5,229.1 L1126.0,223.8 L1126.4,225.1 L1126.9,224.1 L1127.4,223.3 L1127.8,223.9 L1128.3,220.6 L1128.7,219.9 L1129.2,222.2 L1129.7,217.4 L1130.2,220.5 L1130.7,218.4 L1131.2,218.9 L1131.7,219.0 L1132.1,215.4 L1132.6,219.3 L1133.1,217.8 L1133.6,216.3 L1134.0,214.3 L1134.5,214.1 L1135.0,215.7 L1135.5,213.7 L1136.0,213.9 L1136.4,212.4 L1136.9,212.6 L1137.4,210.2 L1137.8,210.6 L1138.3,209.9 L1138.8,209.2 L1139.2,209.3 L1139.7,207.5 L1140.1,206.6 L1140.6,206.1 L1141.1,201.7 L1141.6,196.7 L1142.1,193.7 L1142.6,200.1 L1143.1,199.6 L1143.6,201.3 L1144.1,204.2 L1144.5,209.6 L1145.0,208.0 L1145.5,209.4 L1146.0,203.5 L1146.4,206.3 L1146.9,204.2 L1147.4,206.5 L1147.8,209.2 L1148.3,209.2 L1148.8,208.0 L1149.3,208.3 L1149.8,204.2 L1150.2,203.7 L1150.7,204.2 L1151.2,205.3 L1151.7,206.4 L1152.1,204.6 L1152.6,207.0 L1153.1,205.7 L1153.5,204.9 L1154.0,205.0 L1154.5,204.2 L1155.0,204.2 L1155.5,202.6 L1155.9,200.4 L1156.4,201.9 L1157.1,203.7 L1157.7,201.3 L1158.2,206.8 L1158.8,207.0 L1159.3,209.7 L1159.7,214.4 L1160.2,215.6 L1161.1,212.7 L1161.6,215.9 L1162.1,218.8 L1162.6,220.3 L1163.2,227.2 L1163.9,232.6 L1164.4,224.4 L1164.9,218.4 L1165.4,217.9 L1165.8,217.1 L1166.3,212.7 L1166.8,212.7 L1167.3,214.7 L1167.8,213.7 L1168.2,212.1 L1168.7,208.0 L1169.2,210.5 L1169.6,207.6 L1170.1,205.0 L1170.6,203.8 L1171.0,202.6 L1171.5,203.2 L1172.0,203.7 L1172.4,203.8 L1172.9,204.2 L1173.5,209.1 L1174.0,211.8 L1174.7,204.2 L1175.3,203.2 L1175.8,206.3 L1176.2,205.4 L1176.7,200.8 L1177.2,200.0 L1177.7,203.6 L1178.2,205.7 L1178.6,207.9 L1179.1,209.9 L1179.6,207.7 L1180.0,205.9 L1180.5,202.8 L1181.0,202.3 L1181.5,204.2 L1181.9,205.4 L1182.4,207.0 L1182.9,204.7 L1183.4,199.9 L1183.9,198.5 L1184.5,197.4 L1185.0,196.2 L1185.5,195.9 L1186.1,193.7 L1186.6,190.1 L1187.0,190.9 L1187.5,190.2 L1188.0,186.7 L1188.5,186.6 L1189.1,183.8 L1189.6,183.3 L1190.2,182.6 L1190.9,183.7 L1191.7,194.7 L1192.2,217.4 L1193.0,242.1 L1193.5,250.7 L1194.3,226.9 L1194.8,220.6 L1195.2,215.0 L1195.7,212.5 L1196.2,210.2 L1196.7,204.0 L1197.2,201.0 L1197.6,197.4 L1198.1,195.7 L1198.7,199.4 L1199.2,201.9 L1199.8,198.4 L1200.3,192.7 L1200.9,190.4 L1201.4,186.7 L1201.9,185.5 L1202.4,184.6 L1202.9,181.0 L1203.4,181.6 L1203.9,184.8 L1204.4,189.4 L1204.9,186.8 L1205.4,180.2 L1205.9,179.0 L1206.5,185.9 L1207.1,192.5 L1207.6,185.8 L1208.1,177.7 L1208.6,170.6 L1209.1,166.0 L1209.7,165.2 L1210.2,162.1 L1210.7,160.1 L1211.2,158.0 L1211.6,152.9 L1212.1,151.8 L1212.8,156.6 L1213.4,157.0 L1213.9,148.9 L1214.4,147.6 L1214.9,149.3 L1215.4,151.8 L1215.9,153.9 L1216.4,153.3 L1217.0,147.4 L1217.5,147.2 L1218.0,143.4 L1218.6,140.8 L1219.1,142.2 L1219.7,139.3 L1220.2,141.3 L1220.6,134.9 L1221.1,134.0 L1221.6,136.0 L1222.1,134.1 L1222.6,137.2 L1223.2,137.2 L1223.7,135.7 L1224.3,130.9 L1224.8,131.7 L1225.2,129.8 L1225.7,133.0 L1226.3,131.0 L1226.8,129.7 L1227.4,124.2 L1227.9,130.8 L1228.3,134.3 L1228.8,136.7 L1229.4,129.0 L1229.9,127.9 L1230.5,125.7 L1231.1,127.2 L1231.6,119.4 L1232.2,120.4 L1232.8,128.2 L1233.4,130.9 L1234.1,130.4 L1234.7,121.5 L1235.2,126.7 L1235.7,130.9 L1236.2,131.9 L1236.8,130.1 L1237.4,129.8 L1237.9,135.5 L1238.4,146.3 L1238.9,154.9 L1239.4,147.7 L1239.9,141.3 L1240.5,139.6 L1241.0,138.2 L1241.6,149.6 L1242.2,158.1 L1242.8,163.5 L1243.5,169.5 L1244.1,163.6 L1244.7,157.0 L1245.2,169.3 L1245.8,180.0 L1246.3,175.1 L1246.7,173.8 L1247.2,165.4 L1247.8,163.1 L1248.3,159.3 L1248.9,156.0 L1249.4,161.2 L1249.9,165.9 L1250.4,172.7 L1250.9,178.7 L1251.3,179.9 L1251.8,183.1 L1252.4,185.9 L1253.1,192.5 L1253.6,187.7 L1254.0,184.6 L1254.5,181.0 L1255.0,175.7 L1255.5,174.1 L1256.0,167.5 L1256.5,167.6 L1256.9,173.1 L1257.4,174.5 L1257.9,170.9 L1258.3,164.5 L1258.8,163.0 L1259.4,160.3 L1260.0,157.3 L1260.6,154.7 L1261.2,157.3 L1261.7,157.8 L1262.5,171.4 L1263.2,164.8 L1263.8,159.9 L1264.4,159.5 L1264.9,154.5 L1265.5,156.8 L1266.0,155.3 L1266.6,159.8 L1267.1,158.9 L1267.6,158.2 L1268.1,153.3 L1268.6,150.5 L1269.1,146.8 L1269.6,147.9 L1270.1,143.2 L1270.6,136.6 L1271.1,139.0 L1271.8,142.5 L1272.4,149.4 L1272.9,149.4 L1273.3,148.0 L1273.8,145.3 L1274.3,145.9 L1274.8,146.9 L1275.3,153.6 L1275.9,155.5 L1276.5,151.5 L1277.0,158.6 L1277.4,165.1 L1277.9,153.9 L1278.4,146.3 L1279.0,144.3 L1279.5,144.0 L1280.1,140.0 L1280.6,130.2 L1281.1,131.7 L1281.7,135.7 L1282.2,134.8 L1282.7,133.7 L1283.1,124.6 L1283.6,126.5 L1284.2,125.4 L1284.7,116.8 L1285.3,118.1 L1285.8,118.6 L1286.3,114.8 L1286.8,111.8 L1287.4,118.7 L1288.0,115.0 L1288.7,124.4 L1289.3,117.2 L1289.9,112.9 L1290.6,110.3 L1291.2,107.6 L1291.7,109.1 L1292.1,104.0 L1292.6,104.5 L1293.1,99.7 L1293.6,97.3 L1294.1,95.1 L1294.6,106.9 L1295.1,119.1 L1295.7,107.7 L1296.2,101.4 L1296.8,103.6 L1297.4,103.5 L1297.9,99.6 L1298.4,93.2 L1298.9,87.8 L1299.4,93.1 L1299.9,89.0 L1300.4,90.9 L1301.0,91.1 L1301.6,84.6 L1302.2,84.8 L1302.7,87.8 L1303.2,85.5 L1303.7,79.4 L1304.2,79.1 L1304.8,88.8 L1305.4,90.9 L1305.4,386 L62,386 Z" fill="#e6f4f4" stroke="none"/>
<path d="M62.0,377.5 L62.5,377.3 L63.0,377.4 L63.5,377.1 L64.0,377.0 L64.5,376.7 L65.0,376.8 L65.5,376.8 L65.9,377.0 L66.3,376.9 L66.8,377.0 L67.2,376.9 L67.7,376.9 L68.2,376.8 L68.6,376.4 L69.0,377.0 L69.5,376.9 L70.0,376.9 L70.4,376.4 L70.8,376.4 L71.3,376.6 L71.8,376.7 L72.2,376.9 L72.7,376.8 L73.1,376.9 L73.5,376.7 L74.0,376.9 L74.5,376.9 L74.9,376.7 L75.3,377.2 L75.8,376.9 L76.2,377.1 L76.7,376.7 L77.2,376.6 L77.6,376.7 L78.0,376.8 L78.5,376.9 L79.0,376.9 L79.4,376.7 L79.8,376.6 L80.3,376.7 L80.8,377.1 L81.2,376.6 L81.7,376.9 L82.1,376.9 L82.5,376.5 L83.0,376.8 L83.5,376.2 L84.0,375.5 L84.5,375.8 L84.9,375.1 L85.4,375.4 L85.8,375.5 L86.3,375.3 L86.7,375.6 L87.2,375.5 L87.6,375.2 L88.1,375.7 L88.5,375.6 L89.0,375.7 L89.5,375.8 L89.9,375.6 L90.4,375.5 L90.8,375.2 L91.3,375.6 L91.7,375.4 L92.2,375.4 L92.6,375.2 L93.1,375.3 L93.5,375.4 L94.0,375.5 L94.5,376.4 L95.0,376.8 L95.5,376.2 L96.0,376.2 L96.5,376.4 L97.0,376.2 L97.5,376.8 L98.0,376.8 L98.5,376.9 L98.9,376.3 L99.4,376.2 L99.9,376.8 L100.3,376.5 L100.8,376.4 L101.3,376.9 L101.7,376.9 L102.2,376.7 L102.7,376.7 L103.1,376.7 L103.6,376.9 L104.1,376.7 L104.5,376.6 L105.0,376.5 L105.5,376.9 L106.0,376.7 L106.5,377.5 L107.0,377.5 L107.5,377.7 L107.9,377.7 L108.4,377.1 L108.8,377.5 L109.3,377.8 L109.8,377.2 L110.2,377.6 L110.7,377.9 L111.2,377.4 L111.6,378.1 L112.1,377.9 L112.5,377.7 L113.0,377.8 L113.5,377.9 L113.9,378.0 L114.4,377.9 L114.9,378.2 L115.3,377.8 L115.8,377.9 L116.3,378.2 L116.7,378.0 L117.2,377.8 L117.7,378.3 L118.1,378.4 L118.6,378.0 L119.1,377.8 L119.5,378.1 L120.0,378.2 L120.5,378.3 L121.0,378.5 L121.5,379.0 L122.0,378.6 L122.5,379.3 L123.0,378.9 L123.5,379.2 L124.0,379.5 L124.5,379.8 L125.0,380.0 L125.5,380.1 L126.0,380.1 L126.5,380.2 L127.0,380.3 L127.5,380.2 L128.0,380.2 L128.5,379.9 L129.0,379.8 L129.5,380.0 L130.0,380.1 L130.5,380.1 L131.0,380.2 L131.5,380.2 L132.0,380.0 L132.5,380.2 L133.0,379.7 L133.5,379.4 L134.0,379.3 L134.5,379.1 L135.0,379.0 L135.5,379.0 L136.0,378.6 L136.5,378.6 L137.0,378.3 L137.5,378.6 L138.0,377.6 L138.5,377.8 L139.0,378.0 L139.5,378.0 L140.0,377.8 L140.5,377.6 L141.0,377.6 L141.5,377.7 L142.0,377.6 L142.5,377.4 L143.0,378.1 L143.5,377.6 L144.0,377.4 L144.5,377.5 L145.0,377.5 L145.5,378.0 L146.0,378.5 L146.5,378.5 L146.9,377.9 L147.4,378.4 L147.8,378.7 L148.3,378.2 L148.7,378.5 L149.2,378.7 L149.6,378.7 L150.1,378.8 L150.5,378.1 L151.0,378.4 L151.5,378.4 L151.9,378.6 L152.4,378.7 L152.8,377.9 L153.3,378.7 L153.7,378.2 L154.2,378.7 L154.6,378.2 L155.1,378.5 L155.5,378.8 L156.0,378.5 L156.5,378.0 L157.0,377.5 L157.5,377.5 L157.9,377.7 L158.4,377.5 L158.8,377.5 L159.3,377.8 L159.8,377.7 L160.2,377.4 L160.7,378.1 L161.1,377.2 L161.6,377.7 L162.1,377.4 L162.5,377.5 L163.0,377.7 L163.4,377.5 L163.9,377.6 L164.4,377.2 L164.8,377.2 L165.3,377.6 L165.7,377.3 L166.2,377.3 L166.6,377.2 L167.1,377.8 L167.6,377.7 L168.0,377.8 L168.5,377.3 L168.9,377.5 L169.4,377.2 L169.9,377.7 L170.3,377.8 L170.8,377.3 L171.2,377.8 L171.7,377.7 L172.2,377.5 L172.6,377.1 L173.1,377.8 L173.5,377.5 L174.0,377.5 L174.5,377.6 L175.0,378.0 L175.5,378.0 L176.0,377.8 L176.5,378.0 L177.0,377.5 L177.5,377.3 L177.9,377.7 L178.4,377.8 L178.8,377.8 L179.3,377.5 L179.7,377.3 L180.2,377.7 L180.6,377.5 L181.1,377.5 L181.5,377.8 L182.0,377.4 L182.5,377.0 L182.9,377.4 L183.4,377.1 L183.8,377.7 L184.3,377.6 L184.7,377.4 L185.2,377.5 L185.6,377.7 L186.1,377.5 L186.5,377.8 L187.0,377.5 L187.5,377.7 L187.9,377.8 L188.4,377.9 L188.8,377.4 L189.3,377.7 L189.7,377.1 L190.2,377.3 L190.6,377.1 L191.1,377.7 L191.5,377.2 L192.0,377.5 L192.5,377.5 L192.9,377.5 L193.4,377.4 L193.8,377.6 L194.3,377.9 L194.7,377.5 L195.2,377.6 L195.6,377.7 L196.1,377.5 L196.5,377.2 L197.0,377.4 L197.5,377.7 L197.9,377.1 L198.4,377.4 L198.8,377.7 L199.3,377.7 L199.7,377.5 L200.2,377.7 L200.6,377.5 L201.1,377.2 L201.5,377.2 L202.0,377.4 L202.5,377.7 L202.9,377.4 L203.4,377.3 L203.8,377.3 L204.3,377.2 L204.7,377.5 L205.2,377.2 L205.6,377.6 L206.1,377.0 L206.5,377.6 L207.0,377.4 L207.5,377.1 L207.9,377.7 L208.4,377.4 L208.8,377.0 L209.3,377.3 L209.7,377.6 L210.2,377.4 L210.6,377.7 L211.1,377.7 L211.5,377.6 L212.0,377.5 L212.5,377.3 L213.0,377.3 L213.5,376.9 L214.0,376.5 L214.5,376.5 L215.0,375.9 L215.5,376.5 L216.0,376.5 L216.5,376.1 L217.0,376.0 L217.5,376.5 L218.0,376.0 L218.5,375.7 L219.0,376.2 L219.5,376.6 L220.0,375.9 L220.5,376.3 L221.0,376.6 L221.5,376.2 L222.0,376.3 L222.5,376.4 L222.9,376.5 L223.4,376.1 L223.9,376.3 L224.4,376.4 L224.8,376.5 L225.3,376.3 L225.8,376.3 L226.2,376.1 L226.7,376.3 L227.2,376.6 L227.6,376.4 L228.1,376.2 L228.6,376.2 L229.1,377.0 L229.5,376.6 L230.0,376.4 L230.5,376.5 L230.9,375.8 L231.4,376.5 L231.9,376.4 L232.3,376.7 L232.8,376.4 L233.3,376.3 L233.8,376.4 L234.2,375.8 L234.7,376.4 L235.2,376.3 L235.6,376.0 L236.1,376.4 L236.6,376.5 L237.0,375.8 L237.5,376.1 L238.0,376.0 L238.4,376.2 L238.9,376.2 L239.4,376.1 L239.8,376.0 L240.3,376.7 L240.7,376.4 L241.2,376.0 L241.7,375.9 L242.1,376.6 L242.6,376.5 L243.1,376.7 L243.5,376.5 L244.0,376.1 L244.4,376.4 L244.9,375.9 L245.4,376.2 L245.8,376.4 L246.3,376.4 L246.8,376.4 L247.3,375.9 L247.8,375.9 L248.2,375.9 L248.7,375.8 L249.2,375.7 L249.7,375.4 L250.2,375.2 L250.7,375.3 L251.1,374.9 L251.6,374.6 L252.1,374.5 L252.6,374.5 L253.1,374.8 L253.6,375.2 L254.1,375.6 L254.7,375.9 L255.2,376.3 L255.7,376.6 L256.2,376.4 L256.6,376.0 L257.1,376.2 L257.6,376.1 L258.0,375.8 L258.5,375.5 L259.0,375.5 L259.4,375.0 L259.9,374.6 L260.4,374.9 L260.8,374.5 L261.3,374.5 L261.8,374.6 L262.2,374.1 L262.7,373.6 L263.2,373.9 L263.6,374.3 L264.1,373.8 L264.5,373.5 L265.0,373.5 L265.5,373.7 L265.9,373.6 L266.4,373.4 L266.9,373.4 L267.3,373.6 L267.8,373.4 L268.2,373.2 L268.7,373.3 L269.1,373.4 L269.6,373.2 L270.0,373.2 L270.5,372.7 L270.9,372.8 L271.4,372.8 L271.9,373.0 L272.3,372.9 L272.8,373.3 L273.2,373.2 L273.7,373.4 L274.1,373.2 L274.6,373.9 L275.0,373.7 L275.5,373.4 L275.9,373.5 L276.4,373.6 L276.9,374.2 L277.3,373.5 L277.8,373.8 L278.2,373.8 L278.7,373.6 L279.1,373.3 L279.6,373.6 L280.0,373.6 L280.5,373.8 L280.9,373.7 L281.4,373.6 L281.8,373.7 L282.3,373.7 L282.7,373.6 L283.2,373.6 L283.6,373.5 L284.1,373.7 L284.5,373.3 L285.0,373.4 L285.4,373.5 L285.9,373.2 L286.3,373.4 L286.8,373.1 L287.2,373.4 L287.7,373.5 L288.2,373.8 L288.6,374.0 L289.1,374.1 L289.5,374.2 L290.0,374.2 L290.5,375.1 L290.9,375.0 L291.4,375.1 L291.9,375.2 L292.3,374.6 L292.8,374.5 L293.2,374.0 L293.7,374.4 L294.1,374.3 L294.6,373.9 L295.1,373.6 L295.6,374.1 L296.0,374.4 L296.5,374.0 L297.0,374.1 L297.5,374.4 L297.9,374.6 L298.4,374.5 L298.9,374.9 L299.4,375.1 L299.8,375.3 L300.3,375.4 L300.8,375.4 L301.3,375.7 L301.8,375.5 L302.3,374.9 L302.8,375.1 L303.2,374.9 L303.7,374.8 L304.2,375.0 L304.7,375.0 L305.2,374.9 L305.7,375.2 L306.2,375.0 L306.7,375.3 L307.2,375.8 L307.7,375.9 L308.2,376.1 L308.7,376.4 L309.2,376.3 L309.6,376.0 L310.1,376.2 L310.6,376.0 L311.1,375.8 L311.5,375.5 L312.0,375.5 L312.5,374.8 L312.9,375.1 L313.4,375.2 L313.9,374.7 L314.4,375.0 L314.8,374.9 L315.3,374.7 L315.8,374.3 L316.3,374.4 L316.7,374.2 L317.2,374.3 L317.7,374.2 L318.2,373.9 L318.6,373.6 L319.1,373.6 L319.6,373.5 L320.1,373.6 L320.5,373.3 L321.0,373.0 L321.5,373.0 L321.9,372.6 L322.4,372.7 L322.9,372.5 L323.3,372.3 L323.8,372.4 L324.2,372.2 L324.6,372.2 L325.1,372.1 L325.6,371.8 L326.0,372.3 L326.4,371.6 L326.9,371.8 L327.4,371.4 L327.8,371.3 L328.3,371.5 L328.7,370.8 L329.2,371.1 L329.6,371.3 L330.1,371.4 L330.5,371.8 L331.0,371.3 L331.4,371.5 L331.9,371.4 L332.3,371.4 L332.8,371.3 L333.3,371.2 L333.7,371.3 L334.2,370.9 L334.6,371.4 L335.1,370.9 L335.5,371.2 L336.0,371.6 L336.4,371.1 L336.9,371.1 L337.3,371.4 L337.8,371.1 L338.3,371.1 L338.7,370.9 L339.2,371.1 L339.7,371.1 L340.1,371.1 L340.6,370.8 L341.1,371.3 L341.6,371.3 L342.0,370.9 L342.5,370.9 L343.0,370.7 L343.4,371.1 L343.9,370.6 L344.4,370.9 L344.8,370.6 L345.3,370.7 L345.8,370.5 L346.2,370.8 L346.7,370.9 L347.2,370.6 L347.7,370.4 L348.1,370.7 L348.6,370.5 L349.1,370.5 L349.6,370.7 L350.1,370.6 L350.5,370.2 L351.0,370.3 L351.5,371.0 L351.9,370.6 L352.4,371.0 L352.8,370.8 L353.3,371.2 L353.7,371.0 L354.2,371.9 L354.6,372.0 L355.1,371.6 L355.5,371.7 L356.0,372.2 L356.5,371.6 L357.0,372.0 L357.6,371.3 L358.1,371.2 L358.6,370.9 L359.1,370.7 L359.6,370.7 L360.0,370.4 L360.5,370.7 L361.0,370.3 L361.4,370.6 L361.9,370.7 L362.3,370.7 L362.8,370.6 L363.3,370.4 L363.7,370.6 L364.2,370.5 L364.7,370.9 L365.1,370.7 L365.6,370.5 L366.0,370.4 L366.5,370.4 L367.0,370.3 L367.4,370.4 L367.9,370.5 L368.4,370.5 L368.8,370.4 L369.3,370.4 L369.8,370.6 L370.2,369.9 L370.7,370.0 L371.2,370.5 L371.6,369.4 L372.1,369.6 L372.6,369.7 L373.1,369.6 L373.5,369.5 L374.0,369.3 L374.5,369.4 L374.9,369.2 L375.4,369.1 L375.9,369.1 L376.3,368.4 L376.8,368.5 L377.3,368.6 L377.7,368.2 L378.2,368.1 L378.6,368.3 L379.1,367.9 L379.6,368.0 L380.0,367.9 L380.5,367.6 L381.0,367.7 L381.4,367.8 L381.9,367.7 L382.4,367.4 L382.8,367.7 L383.3,367.8 L383.7,367.7 L384.2,367.8 L384.7,367.5 L385.1,367.4 L385.6,366.8 L386.1,366.9 L386.6,366.9 L387.1,366.1 L387.5,366.0 L388.0,365.7 L388.5,365.5 L388.9,365.7 L389.4,365.3 L389.8,365.3 L390.3,364.8 L390.7,364.8 L391.2,364.7 L391.6,364.1 L392.1,364.7 L392.5,364.4 L393.0,364.1 L393.5,363.2 L394.0,363.3 L394.5,362.6 L395.0,362.3 L395.4,361.9 L395.9,360.5 L396.4,360.7 L396.9,361.0 L397.4,359.8 L397.9,359.5 L398.4,359.2 L399.0,358.9 L399.5,359.0 L400.0,359.5 L400.5,359.6 L400.9,360.1 L401.4,359.4 L401.9,359.2 L402.4,360.1 L402.9,358.6 L403.3,358.4 L403.8,358.6 L404.3,358.1 L404.9,357.4 L405.4,355.9 L405.9,355.7 L406.4,355.6 L407.0,356.9 L407.5,357.2 L408.0,357.4 L408.4,356.8 L408.9,357.4 L409.3,357.4 L409.8,358.0 L410.2,357.8 L410.7,358.0 L411.2,357.7 L411.7,357.3 L412.2,357.7 L412.8,357.7 L413.3,356.5 L413.8,356.4 L414.3,355.9 L414.8,354.1 L415.2,353.6 L415.7,352.6 L416.2,352.6 L416.7,352.6 L417.2,351.1 L417.8,350.9 L418.3,350.6 L418.8,350.1 L419.3,348.7 L419.8,349.0 L420.2,348.1 L420.7,348.1 L421.2,346.7 L421.7,345.6 L422.1,346.3 L422.6,345.7 L423.1,346.0 L423.6,345.6 L424.1,346.6 L424.6,346.0 L425.1,346.3 L425.7,346.3 L426.2,347.3 L426.8,346.5 L427.3,347.8 L427.8,346.8 L428.2,346.7 L428.7,346.6 L429.2,345.4 L429.6,345.2 L430.1,344.4 L430.6,344.2 L431.1,344.9 L431.7,345.9 L432.2,345.1 L432.9,352.8 L433.4,352.6 L434.0,354.5 L434.6,353.0 L435.1,353.6 L435.6,353.3 L436.1,353.1 L436.6,353.2 L437.1,351.6 L437.6,352.0 L438.1,350.6 L438.6,351.8 L439.1,351.7 L439.6,351.3 L440.1,350.7 L440.6,351.7 L441.0,349.8 L441.5,349.4 L441.9,349.3 L442.4,348.5 L442.8,348.8 L443.3,347.3 L443.8,346.5 L444.3,347.0 L444.8,345.1 L445.3,347.5 L445.8,347.0 L446.4,347.4 L447.0,348.2 L447.6,347.9 L448.3,346.6 L448.8,348.3 L449.3,347.5 L449.8,347.8 L450.3,348.1 L450.8,348.8 L451.3,348.6 L451.9,349.0 L452.4,349.9 L453.0,349.9 L453.5,350.1 L454.0,349.6 L454.5,349.0 L454.9,349.1 L455.4,348.3 L455.9,347.4 L456.4,347.0 L456.9,346.9 L457.4,346.0 L457.9,344.9 L458.4,346.0 L458.9,344.7 L459.4,344.7 L459.8,343.6 L460.3,344.6 L460.8,343.9 L461.3,342.4 L461.8,344.1 L462.2,343.1 L462.7,342.6 L463.2,343.3 L463.7,343.0 L464.2,342.9 L464.8,342.2 L465.3,343.9 L465.8,343.4 L466.3,343.2 L466.8,342.8 L467.3,343.0 L467.8,342.6 L468.3,342.3 L468.8,343.1 L469.2,342.8 L469.7,343.3 L470.1,342.4 L470.6,343.8 L471.0,344.9 L471.5,344.8 L472.0,344.9 L472.5,343.0 L473.0,342.4 L473.5,342.7 L474.0,340.7 L474.5,340.6 L475.0,339.4 L475.5,340.8 L476.1,340.1 L476.6,341.2 L477.1,340.7 L477.6,339.9 L478.1,340.2 L478.5,339.7 L479.0,339.4 L479.5,339.9 L479.9,341.0 L480.4,342.2 L480.9,341.1 L481.4,340.1 L481.9,339.6 L482.4,339.7 L482.9,338.1 L483.4,338.2 L483.9,338.3 L484.4,338.1 L484.8,337.3 L485.3,337.3 L485.8,338.5 L486.2,338.0 L486.7,340.3 L487.1,340.7 L487.6,340.5 L488.1,341.8 L488.6,342.6 L489.0,343.5 L489.5,345.0 L490.0,345.3 L490.5,346.0 L491.0,345.1 L491.5,345.0 L491.9,344.9 L492.4,343.3 L492.9,342.8 L493.4,341.9 L493.9,342.5 L494.3,341.8 L494.8,340.6 L495.3,342.9 L495.8,342.6 L496.2,339.7 L496.7,340.8 L497.2,340.7 L497.7,341.8 L498.3,343.0 L498.8,343.2 L499.7,347.0 L500.2,348.0 L500.6,348.1 L501.1,348.3 L501.6,349.5 L502.2,348.0 L502.8,346.3 L503.3,347.0 L503.8,345.8 L504.2,346.0 L504.7,346.6 L505.2,345.6 L505.7,346.7 L506.1,346.7 L506.6,347.0 L507.1,347.1 L507.6,346.3 L508.1,346.1 L508.6,346.2 L509.1,346.3 L509.6,345.2 L510.1,343.7 L510.5,343.0 L511.0,341.9 L511.5,342.2 L512.0,342.4 L512.5,342.6 L513.1,340.9 L513.6,341.0 L514.1,341.1 L514.6,340.1 L515.0,343.3 L515.5,342.2 L516.0,343.2 L516.5,342.9 L517.0,342.9 L517.4,341.4 L517.9,341.9 L518.4,343.0 L518.8,343.5 L519.2,343.2 L519.7,345.1 L520.2,344.8 L520.7,344.8 L521.2,342.4 L521.7,343.6 L522.2,342.6 L522.7,342.6 L523.2,342.7 L523.6,342.6 L524.1,343.0 L524.6,341.9 L525.0,342.5 L525.5,341.6 L526.0,342.2 L526.5,341.1 L527.0,341.4 L527.4,342.5 L527.9,341.3 L528.4,342.1 L528.8,342.2 L529.3,342.0 L529.8,343.2 L530.2,341.8 L530.7,341.4 L531.1,341.0 L531.6,339.4 L532.1,339.9 L532.5,340.3 L533.0,340.2 L533.4,341.4 L533.9,340.5 L534.3,340.7 L534.8,341.3 L535.3,342.4 L535.8,342.5 L536.3,342.8 L536.9,343.2 L537.4,344.0 L537.9,344.7 L538.4,344.6 L538.9,343.9 L539.5,342.4 L540.0,342.9 L540.5,342.2 L541.0,341.6 L541.5,341.5 L542.0,343.2 L542.4,343.1 L542.9,343.8 L543.4,343.4 L543.9,343.9 L544.4,344.0 L544.9,342.5 L545.3,343.0 L545.8,342.0 L546.3,343.8 L546.8,341.8 L547.3,341.9 L547.8,342.9 L548.2,341.9 L548.7,343.1 L549.1,344.2 L549.6,341.5 L550.0,343.0 L550.5,343.8 L550.9,343.7 L551.4,343.5 L551.8,345.5 L552.3,344.4 L552.8,344.3 L553.2,343.1 L553.7,344.5 L554.1,342.8 L554.6,344.4 L555.0,343.2 L555.5,343.5 L555.9,344.1 L556.4,343.2 L556.8,342.2 L557.3,342.9 L557.8,341.4 L558.2,342.7 L558.7,341.9 L559.2,340.5 L559.6,341.0 L560.1,340.3 L560.5,339.9 L561.0,337.6 L561.5,338.4 L561.9,338.7 L562.4,337.6 L562.9,338.1 L563.3,338.2 L563.8,336.0 L564.2,337.7 L564.7,337.9 L565.2,339.3 L565.6,337.0 L566.1,337.6 L566.6,337.0 L567.1,336.8 L567.6,337.0 L568.0,335.7 L568.5,336.4 L569.0,334.7 L569.5,335.0 L570.0,334.4 L570.5,334.1 L570.9,334.7 L571.4,334.2 L571.8,333.6 L572.3,335.5 L572.8,335.1 L573.2,334.5 L573.7,335.1 L574.1,335.8 L574.6,334.5 L575.0,335.1 L575.5,335.3 L576.0,335.2 L576.4,334.8 L576.9,333.7 L577.3,332.0 L577.8,333.9 L578.2,332.8 L578.7,332.1 L579.1,331.5 L579.6,331.4 L580.0,330.5 L580.5,330.3 L581.0,329.9 L581.5,330.4 L581.9,330.9 L582.4,331.2 L582.9,331.1 L583.4,332.7 L583.8,331.7 L584.3,333.4 L584.8,333.3 L585.3,332.5 L585.8,333.3 L586.3,333.9 L586.8,332.9 L587.2,332.1 L587.7,332.6 L588.2,332.5 L588.7,331.0 L589.2,331.7 L589.7,332.0 L590.2,331.9 L590.6,331.2 L591.1,331.4 L591.5,331.6 L592.0,331.5 L592.4,331.3 L592.9,330.9 L593.3,330.0 L593.8,330.0 L594.2,329.6 L594.7,329.6 L595.2,329.4 L595.7,329.6 L596.2,328.6 L596.8,329.6 L597.3,329.9 L597.8,330.0 L598.3,329.7 L598.8,330.8 L599.3,331.6 L599.8,331.5 L600.3,333.5 L600.8,332.4 L601.3,330.7 L601.7,332.5 L602.2,331.5 L602.6,333.5 L603.1,334.8 L603.6,331.3 L604.0,333.3 L604.5,333.3 L605.0,333.4 L605.5,332.6 L606.0,332.9 L606.6,330.7 L607.1,332.7 L607.6,331.8 L608.1,331.3 L608.6,330.3 L609.1,329.2 L609.6,329.3 L610.1,328.1 L610.6,327.5 L611.1,327.8 L611.5,327.0 L612.0,325.5 L612.5,326.9 L613.0,326.8 L613.4,327.0 L613.9,325.5 L614.4,325.9 L614.9,326.0 L615.4,326.7 L616.0,326.5 L616.5,327.5 L617.0,328.2 L617.5,326.9 L618.0,326.1 L618.5,325.1 L618.9,327.0 L619.4,327.4 L619.9,326.8 L620.4,326.5 L620.8,325.3 L621.3,325.0 L621.8,325.4 L622.3,325.6 L622.8,323.8 L623.3,322.6 L623.9,322.8 L624.4,325.0 L624.9,322.6 L625.4,323.9 L625.9,321.6 L626.3,321.3 L626.8,321.8 L627.3,320.8 L627.8,322.2 L628.2,320.9 L628.7,319.9 L629.2,320.5 L629.7,321.4 L630.2,319.7 L630.7,320.2 L631.2,319.8 L631.7,319.4 L632.1,319.8 L632.6,318.8 L633.1,317.7 L633.6,317.3 L634.1,318.9 L634.6,317.9 L635.1,318.4 L635.6,319.1 L636.1,319.2 L636.6,319.2 L637.1,320.5 L637.7,321.0 L638.2,321.7 L638.7,320.8 L639.1,320.5 L639.6,319.1 L640.1,320.3 L640.6,320.5 L641.0,320.2 L641.5,319.5 L642.0,319.0 L642.4,318.6 L642.9,319.1 L643.3,317.9 L643.8,318.1 L644.2,317.6 L644.7,316.9 L645.1,317.4 L645.6,315.5 L646.0,315.3 L646.5,315.2 L647.0,314.6 L647.5,314.8 L647.9,316.8 L648.4,317.1 L648.9,315.8 L649.4,315.5 L649.8,315.6 L650.3,315.8 L650.8,315.2 L651.2,315.2 L651.7,312.9 L652.1,313.1 L652.6,313.3 L653.1,314.3 L653.6,315.7 L654.1,315.2 L654.6,315.1 L655.1,316.4 L655.6,314.6 L656.1,312.9 L656.6,311.2 L657.1,311.8 L657.6,309.0 L658.1,307.7 L658.6,307.5 L659.0,308.7 L659.5,307.0 L660.0,305.5 L660.5,303.9 L660.9,304.1 L661.4,304.5 L661.9,302.2 L662.4,303.6 L662.9,305.1 L663.4,304.9 L663.9,306.1 L664.4,306.5 L664.9,305.4 L665.3,305.0 L665.8,304.9 L666.2,302.8 L666.8,303.8 L667.4,307.3 L668.0,309.6 L668.5,309.2 L669.0,307.9 L669.5,307.5 L670.0,307.8 L670.5,306.5 L671.0,308.9 L671.5,308.3 L671.9,308.7 L672.4,309.0 L672.9,306.4 L673.4,308.3 L674.0,305.4 L674.5,304.0 L675.0,301.8 L675.5,301.6 L676.0,300.2 L676.5,297.9 L677.0,297.7 L677.5,296.7 L678.0,295.0 L678.5,293.6 L679.0,294.4 L679.5,293.8 L680.0,296.5 L680.6,295.0 L681.1,294.3 L681.6,296.6 L682.1,295.5 L682.6,294.0 L683.2,292.8 L683.7,292.6 L684.2,292.3 L684.7,291.1 L685.2,292.1 L685.7,295.3 L686.1,298.9 L686.6,299.7 L687.1,302.3 L687.6,303.5 L688.0,305.8 L688.5,307.5 L689.0,309.6 L689.5,307.3 L690.0,305.8 L690.5,302.9 L691.0,298.5 L691.5,298.5 L692.0,297.4 L692.5,295.6 L693.0,296.0 L693.6,293.8 L694.1,293.5 L694.6,292.3 L695.2,292.4 L695.8,288.0 L696.3,288.0 L696.9,289.0 L697.5,289.7 L698.0,292.2 L698.5,288.8 L698.9,288.3 L699.4,289.6 L699.8,287.6 L700.3,285.3 L700.8,284.7 L701.2,285.9 L701.7,283.5 L702.1,282.9 L702.6,282.3 L703.1,283.6 L703.7,285.6 L704.2,287.1 L704.8,287.1 L705.3,286.9 L705.8,285.8 L706.3,284.6 L706.8,285.0 L707.4,283.4 L707.9,280.2 L708.4,279.3 L708.9,281.1 L709.3,282.3 L709.8,283.3 L710.2,284.6 L710.8,282.8 L711.4,280.6 L712.0,280.8 L712.5,281.4 L713.0,281.4 L713.5,285.6 L714.0,285.4 L714.5,283.7 L714.9,279.5 L715.4,280.1 L715.8,277.3 L716.3,274.0 L716.8,270.6 L717.2,273.7 L717.6,271.3 L718.1,271.6 L718.5,266.5 L719.0,266.8 L719.6,269.3 L720.2,271.1 L720.8,272.5 L721.3,271.5 L721.8,270.2 L722.3,268.7 L722.9,272.2 L723.5,273.2 L724.0,267.3 L724.6,264.9 L725.1,265.7 L725.6,267.8 L726.1,271.7 L726.6,272.2 L727.1,273.3 L727.6,275.6 L728.1,276.3 L728.6,274.3 L729.1,271.7 L729.6,269.4 L730.2,268.5 L730.8,268.6 L731.4,269.0 L731.9,271.8 L732.5,273.2 L733.0,274.0 L733.5,272.7 L734.0,270.9 L734.5,269.9 L735.0,273.3 L735.4,272.4 L735.9,275.4 L736.3,277.5 L736.8,277.8 L737.3,280.9 L737.8,284.6 L738.4,282.8 L739.0,279.3 L739.5,279.8 L739.9,283.7 L740.4,284.6 L740.8,284.4 L741.3,287.7 L741.8,286.9 L742.3,283.7 L742.8,283.1 L743.3,284.2 L743.9,281.8 L744.4,282.3 L745.0,284.6 L745.5,287.5 L746.0,289.4 L746.6,292.2 L747.2,296.7 L747.8,300.6 L748.3,297.3 L748.9,295.7 L749.4,292.2 L749.9,291.6 L750.3,291.3 L750.8,287.7 L751.2,289.9 L751.7,292.1 L752.1,292.1 L752.6,291.3 L753.0,294.2 L753.5,295.2 L754.0,296.2 L754.5,297.3 L755.0,295.7 L755.5,298.8 L756.0,297.6 L756.5,298.3 L757.0,302.1 L757.5,301.2 L758.0,303.5 L758.5,304.4 L759.0,309.4 L759.5,315.0 L760.0,310.6 L760.6,308.2 L761.1,308.3 L761.7,307.2 L762.2,306.8 L762.8,305.3 L763.3,303.6 L763.8,302.6 L764.2,301.1 L764.7,301.5 L765.2,301.0 L765.6,300.3 L766.1,300.6 L766.6,302.3 L767.1,303.3 L767.7,304.0 L768.2,305.6 L768.7,306.6 L769.2,304.9 L769.7,303.6 L770.1,302.6 L770.6,300.3 L771.1,302.0 L771.6,301.3 L772.2,301.4 L772.7,304.9 L773.2,304.4 L773.7,304.3 L774.2,305.0 L774.7,302.3 L775.2,303.6 L775.7,305.1 L776.2,307.3 L776.8,307.8 L777.3,310.4 L777.8,312.7 L778.3,317.8 L778.8,321.8 L779.4,318.5 L780.0,313.5 L780.5,316.2 L781.0,315.4 L781.4,316.3 L781.9,318.8 L782.4,321.2 L782.8,323.5 L783.3,324.9 L783.8,326.7 L784.3,322.8 L784.9,321.5 L785.4,318.0 L786.0,318.3 L786.5,317.7 L787.0,316.5 L787.6,316.5 L788.1,316.9 L788.5,317.5 L789.0,316.5 L789.4,315.6 L789.9,317.3 L790.4,318.6 L790.8,319.8 L791.3,320.5 L791.7,322.2 L792.2,322.6 L792.7,323.0 L793.2,324.3 L793.7,325.2 L794.2,324.0 L794.6,323.7 L795.1,323.5 L795.5,321.1 L796.0,320.3 L796.5,320.8 L797.0,319.3 L797.4,317.5 L797.9,316.2 L798.4,316.1 L798.8,313.3 L799.3,312.2 L799.8,311.2 L800.3,310.5 L800.7,312.1 L801.2,313.1 L801.6,312.6 L802.1,312.4 L802.6,312.0 L803.0,310.8 L803.5,310.4 L804.0,308.3 L804.5,309.7 L805.0,307.7 L805.4,306.3 L805.9,306.6 L806.4,305.6 L806.8,305.3 L807.2,306.5 L807.7,306.4 L808.1,303.9 L808.6,305.6 L809.0,305.3 L809.5,303.7 L809.9,302.5 L810.4,303.6 L810.9,301.9 L811.4,301.0 L811.8,301.0 L812.3,299.3 L812.8,296.7 L813.2,297.9 L813.7,295.2 L814.2,295.7 L814.7,296.4 L815.2,294.2 L815.8,294.6 L816.3,294.3 L816.8,294.4 L817.3,294.8 L817.8,296.2 L818.4,295.8 L819.0,295.7 L819.5,295.2 L820.0,296.9 L820.5,298.0 L821.1,298.6 L821.7,302.2 L822.2,300.3 L822.8,298.8 L823.3,296.9 L823.8,296.4 L824.3,297.5 L824.8,296.9 L825.3,297.5 L825.8,297.7 L826.3,297.4 L826.8,300.5 L827.3,300.5 L827.8,301.2 L828.2,299.6 L828.7,297.9 L829.2,295.7 L829.6,297.9 L830.1,298.3 L830.6,296.9 L831.0,297.0 L831.5,295.5 L832.0,295.8 L832.5,294.3 L833.0,291.6 L833.6,292.0 L834.1,290.5 L834.6,288.6 L835.1,286.5 L835.7,287.2 L836.2,285.6 L836.7,286.6 L837.3,287.2 L837.8,288.5 L838.4,288.6 L838.9,286.6 L839.3,284.7 L839.8,287.3 L840.2,285.1 L840.7,286.3 L841.1,288.2 L841.6,286.1 L842.0,289.4 L842.5,291.2 L842.9,291.9 L843.4,290.7 L843.9,290.0 L844.4,289.9 L844.8,289.0 L845.3,289.6 L845.8,289.2 L846.3,287.7 L846.8,285.6 L847.2,287.3 L847.7,285.5 L848.2,285.5 L848.7,285.6 L849.2,284.7 L849.8,285.7 L850.3,284.6 L850.8,282.4 L851.3,282.4 L851.9,283.1 L852.4,285.0 L853.0,283.4 L853.5,283.4 L854.0,284.9 L854.6,286.2 L855.1,285.5 L855.6,285.6 L856.1,283.7 L856.6,280.5 L857.1,279.4 L857.6,279.8 L858.1,278.8 L858.6,277.2 L859.1,279.1 L859.7,274.3 L860.2,275.6 L860.7,273.4 L861.2,274.4 L861.7,271.7 L862.2,272.8 L862.8,274.0 L863.3,273.3 L863.8,274.0 L864.3,272.8 L864.8,272.5 L865.3,269.9 L865.8,270.4 L866.3,268.8 L866.9,266.6 L867.4,265.3 L868.0,264.6 L868.5,268.1 L869.0,269.6 L869.5,273.4 L870.0,277.8 L870.5,278.8 L871.0,277.5 L871.5,275.9 L872.1,275.6 L872.6,273.4 L873.1,272.3 L873.5,273.3 L874.0,269.8 L874.5,271.3 L874.9,269.3 L875.4,268.3 L875.8,270.6 L876.3,267.8 L876.8,266.0 L877.2,268.4 L877.7,266.4 L878.1,266.6 L878.6,262.9 L879.0,264.8 L879.5,262.6 L880.0,263.5 L880.5,260.7 L881.0,259.8 L881.6,262.1 L882.1,258.4 L882.6,257.3 L883.1,256.6 L883.6,256.1 L884.1,257.3 L884.6,256.9 L885.1,256.3 L885.7,255.5 L886.2,256.5 L886.8,253.2 L887.3,256.4 L887.8,260.5 L888.2,259.2 L888.7,258.5 L889.1,253.5 L889.6,254.2 L890.0,253.3 L890.5,249.0 L891.0,246.2 L891.5,245.6 L892.0,244.7 L892.5,242.7 L893.0,244.2 L893.6,245.4 L894.1,242.8 L894.7,245.9 L895.2,245.2 L895.7,245.1 L896.2,241.7 L896.7,244.4 L897.1,251.0 L897.6,256.3 L898.2,250.3 L898.7,250.4 L899.3,245.9 L899.8,241.9 L900.3,240.0 L900.9,238.5 L901.4,237.7 L902.0,236.5 L902.5,241.1 L903.0,243.7 L903.5,248.0 L904.0,243.8 L904.5,239.6 L905.0,241.2 L905.5,244.5 L906.1,245.1 L906.6,249.0 L907.1,253.6 L907.6,255.6 L908.1,262.6 L908.6,259.9 L909.2,260.8 L909.7,256.3 L910.2,259.0 L910.7,260.0 L911.2,264.2 L911.8,261.6 L912.3,257.0 L912.9,255.3 L913.4,252.0 L913.8,251.9 L914.2,252.6 L914.7,250.9 L915.1,249.1 L915.6,248.0 L916.1,248.8 L916.5,250.7 L917.0,254.2 L917.5,258.7 L918.0,260.1 L918.5,262.6 L919.0,262.3 L919.4,261.8 L919.9,263.5 L920.3,269.0 L920.8,265.6 L921.2,267.8 L921.7,270.1 L922.2,272.7 L922.8,274.7 L923.3,277.2 L923.8,282.1 L924.3,287.6 L925.0,300.1 L925.8,314.7 L926.4,300.1 L927.0,308.3 L927.5,318.9 L928.0,312.3 L928.5,307.4 L929.0,307.9 L929.5,304.6 L930.0,304.3 L930.6,309.2 L931.2,312.7 L931.7,310.6 L932.2,311.1 L932.7,310.6 L933.2,316.0 L933.7,321.8 L934.2,326.2 L934.7,319.6 L935.2,314.7 L935.7,313.1 L936.2,310.9 L936.8,307.8 L937.3,306.4 L937.9,304.7 L938.4,301.4 L939.0,300.1 L939.5,298.3 L940.1,298.0 L940.6,297.0 L941.2,297.6 L941.7,303.3 L942.2,300.3 L942.7,296.6 L943.2,293.2 L943.7,291.8 L944.2,290.4 L944.7,290.7 L945.2,289.0 L945.8,286.9 L946.4,287.1 L947.0,284.1 L947.5,283.2 L947.9,283.4 L948.4,286.8 L948.8,285.9 L949.3,285.8 L949.9,285.7 L950.4,282.6 L951.0,282.4 L951.6,283.8 L952.1,283.8 L952.7,284.1 L953.3,282.2 L953.9,278.9 L954.4,281.3 L954.8,284.9 L955.3,285.3 L955.8,288.3 L956.3,285.4 L956.8,283.0 L957.3,283.9 L957.8,280.0 L958.3,278.9 L958.8,277.0 L959.3,276.4 L959.9,276.2 L960.4,276.0 L961.0,278.1 L961.5,282.8 L962.1,286.6 L962.8,289.2 L963.4,293.1 L964.0,289.7 L964.6,287.5 L965.5,293.5 L966.1,289.4 L966.6,287.3 L967.2,284.1 L967.7,284.7 L968.1,286.5 L968.6,287.5 L969.1,285.8 L969.6,284.0 L970.1,279.4 L970.6,279.8 L971.2,277.5 L971.7,275.5 L972.3,274.7 L972.9,276.4 L973.4,274.6 L974.0,277.2 L974.6,274.4 L975.1,272.9 L975.7,271.2 L976.2,270.0 L976.7,270.7 L977.3,268.2 L977.8,269.0 L978.3,267.0 L978.9,264.5 L979.4,263.4 L980.0,264.8 L980.6,270.3 L981.2,273.0 L981.7,270.9 L982.1,268.4 L982.6,265.3 L983.1,264.5 L983.6,264.0 L984.1,261.0 L984.6,261.5 L985.1,263.9 L985.5,263.4 L986.0,265.3 L986.6,268.4 L987.1,269.3 L987.7,271.2 L988.2,266.9 L988.6,265.7 L989.1,265.3 L989.7,267.1 L990.3,266.1 L991.1,284.1 L991.6,282.0 L992.0,279.7 L992.5,278.1 L993.0,281.6 L993.5,284.0 L994.0,287.1 L994.5,290.9 L995.1,285.6 L995.6,280.3 L996.2,274.7 L996.7,280.6 L997.1,283.3 L997.6,287.5 L998.2,286.9 L998.7,284.3 L999.3,279.8 L999.9,283.4 L1000.5,283.2 L1001.1,281.2 L1001.6,277.1 L1002.2,273.8 L1002.8,272.8 L1003.3,271.4 L1003.9,270.4 L1004.5,269.0 L1005.0,269.2 L1005.6,268.7 L1006.2,269.4 L1006.8,273.5 L1007.4,273.0 L1008.0,276.6 L1008.5,278.9 L1009.0,280.1 L1009.4,280.3 L1009.9,284.1 L1010.4,282.5 L1011.0,280.6 L1011.5,278.4 L1012.0,278.1 L1012.5,276.0 L1013.1,273.9 L1013.7,276.2 L1014.2,274.7 L1014.7,273.2 L1015.2,274.9 L1015.7,270.5 L1016.2,269.0 L1016.7,267.8 L1017.2,270.2 L1017.8,269.3 L1018.3,269.9 L1018.8,270.4 L1019.4,271.4 L1019.9,272.6 L1020.5,274.7 L1021.0,274.5 L1021.6,272.0 L1022.2,270.9 L1022.7,267.0 L1023.2,265.6 L1023.7,265.0 L1024.3,262.9 L1024.8,264.1 L1025.3,261.9 L1025.8,259.9 L1026.3,262.1 L1026.9,262.5 L1027.4,262.7 L1027.9,260.7 L1028.5,259.0 L1029.0,260.9 L1029.5,258.1 L1030.1,258.4 L1030.6,256.4 L1031.1,254.6 L1031.6,256.7 L1032.1,254.2 L1032.6,257.7 L1033.0,256.2 L1033.5,258.4 L1034.1,260.7 L1034.7,264.8 L1035.3,261.7 L1035.8,262.5 L1036.4,256.7 L1037.0,257.1 L1037.5,254.3 L1038.1,254.2 L1038.7,253.6 L1039.3,257.6 L1039.8,254.7 L1040.2,255.1 L1040.7,251.6 L1041.2,252.8 L1041.7,248.7 L1042.2,246.9 L1042.7,246.5 L1043.2,245.6 L1043.8,243.5 L1044.4,247.1 L1044.9,245.6 L1045.5,243.6 L1046.0,245.9 L1046.6,243.9 L1047.2,242.0 L1047.7,243.1 L1048.3,245.3 L1048.9,248.4 L1049.5,250.7 L1050.0,247.1 L1050.4,246.7 L1050.9,243.1 L1051.4,242.9 L1051.9,241.1 L1052.5,243.4 L1053.0,243.5 L1053.5,242.2 L1054.0,239.0 L1054.5,243.7 L1055.0,241.3 L1055.5,241.2 L1056.0,239.6 L1056.5,236.1 L1057.0,236.7 L1057.6,236.3 L1058.1,237.5 L1058.6,235.0 L1059.1,233.2 L1059.7,234.3 L1060.2,233.0 L1060.8,236.2 L1061.4,237.2 L1062.0,238.8 L1062.5,237.4 L1062.9,235.0 L1063.5,234.4 L1064.0,237.8 L1064.6,240.5 L1065.4,248.7 L1066.0,245.3 L1066.6,240.5 L1067.2,241.6 L1067.7,239.2 L1068.3,237.1 L1068.8,238.9 L1069.2,240.0 L1069.7,243.9 L1070.2,242.0 L1070.8,241.7 L1071.3,242.2 L1071.8,241.4 L1072.4,239.6 L1072.9,240.3 L1073.5,236.2 L1074.0,236.2 L1074.6,233.8 L1075.2,237.1 L1075.7,234.5 L1076.2,235.2 L1076.6,233.3 L1077.1,231.4 L1077.5,229.1 L1078.0,231.1 L1078.5,230.1 L1079.0,233.4 L1079.4,231.4 L1079.9,231.2 L1080.4,233.6 L1080.9,235.0 L1081.4,236.2 L1081.9,237.9 L1082.4,239.1 L1082.9,239.3 L1083.6,239.8 L1084.2,236.4 L1084.7,238.4 L1085.1,244.1 L1085.6,245.9 L1086.1,246.8 L1086.6,251.3 L1087.1,252.6 L1087.6,250.3 L1088.1,247.9 L1088.6,245.0 L1089.2,244.7 L1089.9,241.7 L1090.4,242.0 L1090.8,243.9 L1091.3,244.0 L1091.8,243.1 L1092.3,244.0 L1092.8,243.7 L1093.2,244.2 L1093.7,245.9 L1094.2,250.0 L1094.7,255.4 L1095.2,257.3 L1095.7,259.8 L1096.2,262.0 L1096.8,261.5 L1097.5,253.5 L1098.2,251.0 L1098.8,246.9 L1099.3,247.4 L1099.8,244.6 L1100.3,244.2 L1100.8,244.1 L1101.3,244.0 L1101.8,245.2 L1102.2,244.5 L1102.7,249.0 L1103.2,247.8 L1103.8,244.7 L1104.5,243.1 L1105.1,249.7 L1105.7,253.5 L1106.3,244.7 L1107.0,242.1 L1107.5,241.3 L1108.0,240.9 L1108.5,240.0 L1108.9,239.8 L1109.4,238.6 L1109.9,237.4 L1110.4,238.1 L1110.8,235.7 L1111.3,237.8 L1111.8,239.3 L1112.3,238.0 L1112.8,244.0 L1113.3,245.0 L1113.8,244.0 L1114.4,241.9 L1115.0,239.6 L1115.5,239.3 L1116.0,237.7 L1116.5,240.3 L1117.0,239.4 L1117.4,236.0 L1117.9,237.1 L1118.4,234.5 L1118.9,231.4 L1119.3,230.1 L1119.8,231.4 L1120.3,230.1 L1120.7,229.8 L1121.2,229.8 L1121.7,229.9 L1122.2,233.9 L1122.7,228.3 L1123.1,229.2 L1123.6,229.4 L1124.1,228.8 L1124.6,228.0 L1125.0,228.6 L1125.5,229.1 L1126.0,223.8 L1126.4,225.1 L1126.9,224.1 L1127.4,223.3 L1127.8,223.9 L1128.3,220.6 L1128.7,219.9 L1129.2,222.2 L1129.7,217.4 L1130.2,220.5 L1130.7,218.4 L1131.2,218.9 L1131.7,219.0 L1132.1,215.4 L1132.6,219.3 L1133.1,217.8 L1133.6,216.3 L1134.0,214.3 L1134.5,214.1 L1135.0,215.7 L1135.5,213.7 L1136.0,213.9 L1136.4,212.4 L1136.9,212.6 L1137.4,210.2 L1137.8,210.6 L1138.3,209.9 L1138.8,209.2 L1139.2,209.3 L1139.7,207.5 L1140.1,206.6 L1140.6,206.1 L1141.1,201.7 L1141.6,196.7 L1142.1,193.7 L1142.6,200.1 L1143.1,199.6 L1143.6,201.3 L1144.1,204.2 L1144.5,209.6 L1145.0,208.0 L1145.5,209.4 L1146.0,203.5 L1146.4,206.3 L1146.9,204.2 L1147.4,206.5 L1147.8,209.2 L1148.3,209.2 L1148.8,208.0 L1149.3,208.3 L1149.8,204.2 L1150.2,203.7 L1150.7,204.2 L1151.2,205.3 L1151.7,206.4 L1152.1,204.6 L1152.6,207.0 L1153.1,205.7 L1153.5,204.9 L1154.0,205.0 L1154.5,204.2 L1155.0,204.2 L1155.5,202.6 L1155.9,200.4 L1156.4,201.9 L1157.1,203.7 L1157.7,201.3 L1158.2,206.8 L1158.8,207.0 L1159.3,209.7 L1159.7,214.4 L1160.2,215.6 L1161.1,212.7 L1161.6,215.9 L1162.1,218.8 L1162.6,220.3 L1163.2,227.2 L1163.9,232.6 L1164.4,224.4 L1164.9,218.4 L1165.4,217.9 L1165.8,217.1 L1166.3,212.7 L1166.8,212.7 L1167.3,214.7 L1167.8,213.7 L1168.2,212.1 L1168.7,208.0 L1169.2,210.5 L1169.6,207.6 L1170.1,205.0 L1170.6,203.8 L1171.0,202.6 L1171.5,203.2 L1172.0,203.7 L1172.4,203.8 L1172.9,204.2 L1173.5,209.1 L1174.0,211.8 L1174.7,204.2 L1175.3,203.2 L1175.8,206.3 L1176.2,205.4 L1176.7,200.8 L1177.2,200.0 L1177.7,203.6 L1178.2,205.7 L1178.6,207.9 L1179.1,209.9 L1179.6,207.7 L1180.0,205.9 L1180.5,202.8 L1181.0,202.3 L1181.5,204.2 L1181.9,205.4 L1182.4,207.0 L1182.9,204.7 L1183.4,199.9 L1183.9,198.5 L1184.5,197.4 L1185.0,196.2 L1185.5,195.9 L1186.1,193.7 L1186.6,190.1 L1187.0,190.9 L1187.5,190.2 L1188.0,186.7 L1188.5,186.6 L1189.1,183.8 L1189.6,183.3 L1190.2,182.6 L1190.9,183.7 L1191.7,194.7 L1192.2,217.4 L1193.0,242.1 L1193.5,250.7 L1194.3,226.9 L1194.8,220.6 L1195.2,215.0 L1195.7,212.5 L1196.2,210.2 L1196.7,204.0 L1197.2,201.0 L1197.6,197.4 L1198.1,195.7 L1198.7,199.4 L1199.2,201.9 L1199.8,198.4 L1200.3,192.7 L1200.9,190.4 L1201.4,186.7 L1201.9,185.5 L1202.4,184.6 L1202.9,181.0 L1203.4,181.6 L1203.9,184.8 L1204.4,189.4 L1204.9,186.8 L1205.4,180.2 L1205.9,179.0 L1206.5,185.9 L1207.1,192.5 L1207.6,185.8 L1208.1,177.7 L1208.6,170.6 L1209.1,166.0 L1209.7,165.2 L1210.2,162.1 L1210.7,160.1 L1211.2,158.0 L1211.6,152.9 L1212.1,151.8 L1212.8,156.6 L1213.4,157.0 L1213.9,148.9 L1214.4,147.6 L1214.9,149.3 L1215.4,151.8 L1215.9,153.9 L1216.4,153.3 L1217.0,147.4 L1217.5,147.2 L1218.0,143.4 L1218.6,140.8 L1219.1,142.2 L1219.7,139.3 L1220.2,141.3 L1220.6,134.9 L1221.1,134.0 L1221.6,136.0 L1222.1,134.1 L1222.6,137.2 L1223.2,137.2 L1223.7,135.7 L1224.3,130.9 L1224.8,131.7 L1225.2,129.8 L1225.7,133.0 L1226.3,131.0 L1226.8,129.7 L1227.4,124.2 L1227.9,130.8 L1228.3,134.3 L1228.8,136.7 L1229.4,129.0 L1229.9,127.9 L1230.5,125.7 L1231.1,127.2 L1231.6,119.4 L1232.2,120.4 L1232.8,128.2 L1233.4,130.9 L1234.1,130.4 L1234.7,121.5 L1235.2,126.7 L1235.7,130.9 L1236.2,131.9 L1236.8,130.1 L1237.4,129.8 L1237.9,135.5 L1238.4,146.3 L1238.9,154.9 L1239.4,147.7 L1239.9,141.3 L1240.5,139.6 L1241.0,138.2 L1241.6,149.6 L1242.2,158.1 L1242.8,163.5 L1243.5,169.5 L1244.1,163.6 L1244.7,157.0 L1245.2,169.3 L1245.8,180.0 L1246.3,175.1 L1246.7,173.8 L1247.2,165.4 L1247.8,163.1 L1248.3,159.3 L1248.9,156.0 L1249.4,161.2 L1249.9,165.9 L1250.4,172.7 L1250.9,178.7 L1251.3,179.9 L1251.8,183.1 L1252.4,185.9 L1253.1,192.5 L1253.6,187.7 L1254.0,184.6 L1254.5,181.0 L1255.0,175.7 L1255.5,174.1 L1256.0,167.5 L1256.5,167.6 L1256.9,173.1 L1257.4,174.5 L1257.9,170.9 L1258.3,164.5 L1258.8,163.0 L1259.4,160.3 L1260.0,157.3 L1260.6,154.7 L1261.2,157.3 L1261.7,157.8 L1262.5,171.4 L1263.2,164.8 L1263.8,159.9 L1264.4,159.5 L1264.9,154.5 L1265.5,156.8 L1266.0,155.3 L1266.6,159.8 L1267.1,158.9 L1267.6,158.2 L1268.1,153.3 L1268.6,150.5 L1269.1,146.8 L1269.6,147.9 L1270.1,143.2 L1270.6,136.6 L1271.1,139.0 L1271.8,142.5 L1272.4,149.4 L1272.9,149.4 L1273.3,148.0 L1273.8,145.3 L1274.3,145.9 L1274.8,146.9 L1275.3,153.6 L1275.9,155.5 L1276.5,151.5 L1277.0,158.6 L1277.4,165.1 L1277.9,153.9 L1278.4,146.3 L1279.0,144.3 L1279.5,144.0 L1280.1,140.0 L1280.6,130.2 L1281.1,131.7 L1281.7,135.7 L1282.2,134.8 L1282.7,133.7 L1283.1,124.6 L1283.6,126.5 L1284.2,125.4 L1284.7,116.8 L1285.3,118.1 L1285.8,118.6 L1286.3,114.8 L1286.8,111.8 L1287.4,118.7 L1288.0,115.0 L1288.7,124.4 L1289.3,117.2 L1289.9,112.9 L1290.6,110.3 L1291.2,107.6 L1291.7,109.1 L1292.1,104.0 L1292.6,104.5 L1293.1,99.7 L1293.6,97.3 L1294.1,95.1 L1294.6,106.9 L1295.1,119.1 L1295.7,107.7 L1296.2,101.4 L1296.8,103.6 L1297.4,103.5 L1297.9,99.6 L1298.4,93.2 L1298.9,87.8 L1299.4,93.1 L1299.9,89.0 L1300.4,90.9 L1301.0,91.1 L1301.6,84.6 L1302.2,84.8 L1302.7,87.8 L1303.2,85.5 L1303.7,79.4 L1304.2,79.1 L1304.8,88.8 L1305.4,90.9 L1305.4,386" fill="none" stroke="#1a9a93" stroke-width="1.3" stroke-linejoin="miter" stroke-miterlimit="2"/>
<g fill="#cfd1d0" fill-opacity="0.76"><rect x="107" y="35" width="29" height="351"/><rect x="301" y="35" width="15" height="351"/><rect x="432" y="35" width="12" height="351"/><rect x="499" y="35" width="13" height="351"/><rect x="689" y="35" width="5" height="351"/><rect x="745" y="35" width="22" height="351"/><rect x="778" y="35" width="22" height="351"/><rect x="918" y="35" width="19" height="351"/><rect x="993" y="35" width="11" height="351"/><rect x="1096" y="35" width="16" height="351"/><rect x="1163" y="35" width="10" height="351"/><rect x="1192" y="35" width="4" height="351"/><rect x="1245" y="35" width="17" height="351"/></g>
<rect x="62" y="35" width="1" height="352" fill="#000"/>
<rect x="62" y="386" width="1244" height="1.3" fill="#000"/>
<rect x="168" y="198" width="16" height="15" fill="#c9cdce"/>
<rect x="544.5" y="233.5" width="16" height="15.5" fill="#e6f4f4" stroke="#1a9a93" stroke-width="1"/>
<path d="M175.6,224.4 C169.5,241 155,252 136.8,249.4" fill="none" stroke="#000" stroke-width="1.3"/>
<path d="M129.6,248.3 L138,245.7 L136.7,253.3 Z" fill="#000"/>
<path d="M601,299.4 C600,319 609,333 625.5,338.6" fill="none" stroke="#000" stroke-width="1.3"/>
<path d="M633,341 L623.8,342.5 L626.5,334.9 Z" fill="#000"/>
</svg>
<div class="t" style="left:19px;top:5.7px;font-size:13.2px;line-height:16px;">USD</div>
<div class="yl" style="top:26.6px;">1,000</div>
<div class="yl" style="top:202px;">500</div>
<div class="yl" style="top:377px;">0</div>
<div class="yr" style="left:32.5px">1972</div><div class="yr" style="left:149.8px">1977</div><div class="yr" style="left:267.0px">1982</div><div class="yr" style="left:384.2px">1987</div><div class="yr" style="left:501.4px">1992</div><div class="yr" style="left:618.6px">1997</div><div class="yr" style="left:735.8px">2002</div><div class="yr" style="left:853.0px">2007</div><div class="yr" style="left:970.2px">2012</div><div class="yr" style="left:1087.4px">2017</div><div class="yr" style="left:1204.6px">2022</div>
<div class="lg b" style="left:192px;top:197px;">13 bear</div>
<div class="lg b" style="left:192px;top:215.7px;">markets</div>
<div class="lg b" style="left:192px;top:234.5px;">since 1972</div>
<div class="lg" style="left:192px;top:257.4px;">Declines</div>
<div class="lg" style="left:192px;top:276.8px;">of 20%</div>
<div class="lg" style="left:192px;top:296.3px;">or more</div>
<div class="lg b" style="left:566px;top:232px;">Global</div>
<div class="lg b" style="left:566px;top:251px;">stock</div>
<div class="lg b" style="left:566px;top:270px;">prices</div>
<div class="fn" style="top:441.3px;"><b>Note:</b> Although the downturns that began in August 1987 (related to Black Monday) and February 2020 (related to the start of the COVID-19 pandemic) don’t meet a widely accepted definition of a bear market because they lasted less than two</div>
<div class="fn" style="top:455.5px;">months, we are counting them as bear markets and including them in our analysis because of their historic nature.</div>
<div class="fn" style="top:473.4px;"><b>Sources:</b> Vanguard calculations as of December 31, 2024, using the MSCI World Index from January 1, 1972, through December 31, 1987, and the MSCI ACWI thereafter.</div>
<div class="fn b" style="top:492.5px;">Past performance is no guarantee of future returns. The performance of an index is not an exact representation of any particular investment, as you cannot invest directly in an index.</div>
<div class="fn" style="top:510.5px;">All investments are subject to risk, including the possible loss of the money you invest. Be aware that fluctuations in the financial markets and other factors may cause declines in the value of your account.</div>
</body></html>
